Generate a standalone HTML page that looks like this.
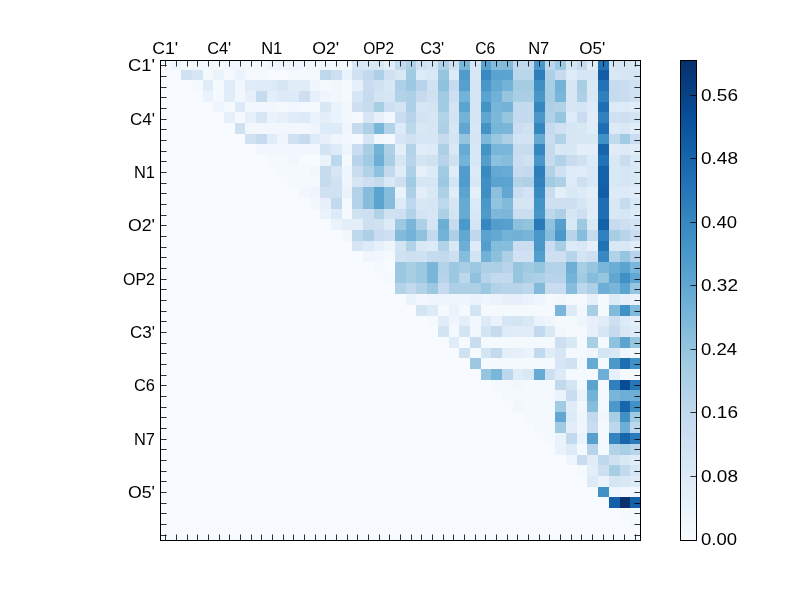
<!DOCTYPE html><html><head><meta charset="utf-8"><style>html,body{margin:0;padding:0;background:#fff;width:800px;height:600px;overflow:hidden}svg{display:block;will-change:transform}text{font-family:"Liberation Sans",sans-serif;fill:#000}</style></head><body>
<svg width="800" height="600" viewBox="0 0 800 600">
<g shape-rendering="crispEdges">
<rect x="0" y="0" width="800" height="600" fill="#fff"/>
<rect x="160" y="60" width="480" height="480" fill="#f7fbff"/>
<rect x="171" y="60" width="10" height="10" fill="#eef5fc"/>
<rect x="181" y="60" width="11" height="10" fill="#f4f9fe"/>
<rect x="192" y="60" width="11" height="10" fill="#f1f7fd"/>
<rect x="203" y="60" width="10" height="10" fill="#f1f7fd"/>
<rect x="213" y="60" width="11" height="10" fill="#f4f9fe"/>
<rect x="224" y="60" width="11" height="10" fill="#f1f7fd"/>
<rect x="235" y="60" width="10" height="10" fill="#f1f7fd"/>
<rect x="245" y="60" width="11" height="10" fill="#f4f9fe"/>
<rect x="256" y="60" width="11" height="10" fill="#f4f9fe"/>
<rect x="267" y="60" width="10" height="10" fill="#eef5fc"/>
<rect x="277" y="60" width="11" height="10" fill="#eef5fc"/>
<rect x="288" y="60" width="11" height="10" fill="#eef5fc"/>
<rect x="299" y="60" width="11" height="10" fill="#f1f7fd"/>
<rect x="310" y="60" width="10" height="10" fill="#f4f9fe"/>
<rect x="320" y="60" width="11" height="10" fill="#f1f7fd"/>
<rect x="331" y="60" width="11" height="10" fill="#f4f9fe"/>
<rect x="342" y="60" width="10" height="10" fill="#f4f9fe"/>
<rect x="352" y="60" width="11" height="10" fill="#d6e6f4"/>
<rect x="363" y="60" width="11" height="10" fill="#d9e8f5"/>
<rect x="374" y="60" width="10" height="10" fill="#d6e6f4"/>
<rect x="384" y="60" width="11" height="10" fill="#e3eef9"/>
<rect x="395" y="60" width="11" height="10" fill="#c2d9ee"/>
<rect x="406" y="60" width="10" height="10" fill="#add0e6"/>
<rect x="416" y="60" width="11" height="10" fill="#d0e2f2"/>
<rect x="427" y="60" width="11" height="10" fill="#d6e6f4"/>
<rect x="438" y="60" width="11" height="10" fill="#add0e6"/>
<rect x="449" y="60" width="10" height="10" fill="#d0e2f2"/>
<rect x="459" y="60" width="11" height="10" fill="#7ab6d9"/>
<rect x="470" y="60" width="11" height="10" fill="#d8e7f5"/>
<rect x="481" y="60" width="10" height="10" fill="#5aa2cf"/>
<rect x="491" y="60" width="11" height="10" fill="#84bcdb"/>
<rect x="502" y="60" width="11" height="10" fill="#81badb"/>
<rect x="513" y="60" width="10" height="10" fill="#bfd8ed"/>
<rect x="523" y="60" width="11" height="10" fill="#bfd8ed"/>
<rect x="534" y="60" width="11" height="10" fill="#4997c9"/>
<rect x="545" y="60" width="10" height="10" fill="#bdd7ec"/>
<rect x="555" y="60" width="11" height="10" fill="#9cc9e1"/>
<rect x="566" y="60" width="11" height="10" fill="#d3e4f3"/>
<rect x="577" y="60" width="10" height="10" fill="#c7dbef"/>
<rect x="587" y="60" width="11" height="10" fill="#e0ecf8"/>
<rect x="598" y="60" width="11" height="10" fill="#2272b6"/>
<rect x="609" y="60" width="11" height="10" fill="#d6e6f4"/>
<rect x="620" y="60" width="10" height="10" fill="#d6e6f4"/>
<rect x="630" y="60" width="10" height="10" fill="#d9e8f5"/>
<rect x="181" y="70" width="11" height="10" fill="#d0e2f2"/>
<rect x="192" y="70" width="11" height="10" fill="#d6e6f4"/>
<rect x="203" y="70" width="10" height="10" fill="#f4f9fe"/>
<rect x="213" y="70" width="11" height="10" fill="#eaf3fb"/>
<rect x="224" y="70" width="11" height="10" fill="#f4f9fe"/>
<rect x="235" y="70" width="10" height="10" fill="#eaf3fb"/>
<rect x="245" y="70" width="11" height="10" fill="#f4f9fe"/>
<rect x="256" y="70" width="11" height="10" fill="#f4f9fe"/>
<rect x="288" y="70" width="11" height="10" fill="#f4f9fe"/>
<rect x="299" y="70" width="11" height="10" fill="#f4f9fe"/>
<rect x="310" y="70" width="10" height="10" fill="#f4f9fe"/>
<rect x="320" y="70" width="11" height="10" fill="#bdd7ec"/>
<rect x="331" y="70" width="11" height="10" fill="#cddff1"/>
<rect x="342" y="70" width="10" height="10" fill="#eaf3fb"/>
<rect x="352" y="70" width="11" height="10" fill="#d0e2f2"/>
<rect x="363" y="70" width="11" height="10" fill="#c2d9ee"/>
<rect x="374" y="70" width="10" height="10" fill="#add0e6"/>
<rect x="384" y="70" width="11" height="10" fill="#d0e2f2"/>
<rect x="395" y="70" width="11" height="10" fill="#d9e8f5"/>
<rect x="406" y="70" width="10" height="10" fill="#a1cbe2"/>
<rect x="416" y="70" width="11" height="10" fill="#ddeaf7"/>
<rect x="427" y="70" width="11" height="10" fill="#d9e8f5"/>
<rect x="438" y="70" width="11" height="10" fill="#95c5df"/>
<rect x="449" y="70" width="10" height="10" fill="#ddeaf7"/>
<rect x="459" y="70" width="11" height="10" fill="#519ccc"/>
<rect x="470" y="70" width="11" height="10" fill="#d8e7f5"/>
<rect x="481" y="70" width="10" height="10" fill="#3a8ac2"/>
<rect x="491" y="70" width="11" height="10" fill="#5aa2cf"/>
<rect x="502" y="70" width="11" height="10" fill="#5ca4d0"/>
<rect x="513" y="70" width="10" height="10" fill="#b9d6ea"/>
<rect x="523" y="70" width="11" height="10" fill="#b9d6ea"/>
<rect x="534" y="70" width="11" height="10" fill="#2e7ebc"/>
<rect x="545" y="70" width="10" height="10" fill="#add0e6"/>
<rect x="555" y="70" width="11" height="10" fill="#c7dbef"/>
<rect x="566" y="70" width="11" height="10" fill="#ddeaf7"/>
<rect x="577" y="70" width="10" height="10" fill="#d6e6f4"/>
<rect x="587" y="70" width="11" height="10" fill="#d6e6f4"/>
<rect x="598" y="70" width="11" height="10" fill="#125da6"/>
<rect x="609" y="70" width="11" height="10" fill="#d9e8f5"/>
<rect x="620" y="70" width="10" height="10" fill="#d6e6f4"/>
<rect x="630" y="70" width="10" height="10" fill="#d6e6f4"/>
<rect x="192" y="80" width="11" height="11" fill="#f4f9fe"/>
<rect x="203" y="80" width="10" height="11" fill="#e0ecf8"/>
<rect x="213" y="80" width="11" height="11" fill="#f4f9fe"/>
<rect x="224" y="80" width="11" height="11" fill="#e0ecf8"/>
<rect x="235" y="80" width="10" height="11" fill="#f1f7fd"/>
<rect x="245" y="80" width="11" height="11" fill="#e0ecf8"/>
<rect x="256" y="80" width="11" height="11" fill="#ddeaf7"/>
<rect x="267" y="80" width="10" height="11" fill="#ddeaf7"/>
<rect x="277" y="80" width="11" height="11" fill="#d6e6f4"/>
<rect x="288" y="80" width="11" height="11" fill="#e0ecf8"/>
<rect x="299" y="80" width="11" height="11" fill="#e0ecf8"/>
<rect x="310" y="80" width="10" height="11" fill="#eef5fc"/>
<rect x="320" y="80" width="11" height="11" fill="#f4f9fe"/>
<rect x="331" y="80" width="11" height="11" fill="#f1f7fd"/>
<rect x="342" y="80" width="10" height="11" fill="#f4f9fe"/>
<rect x="352" y="80" width="11" height="11" fill="#e7f0fa"/>
<rect x="363" y="80" width="11" height="11" fill="#caddf0"/>
<rect x="374" y="80" width="10" height="11" fill="#d0e2f2"/>
<rect x="384" y="80" width="11" height="11" fill="#d9e8f5"/>
<rect x="395" y="80" width="11" height="11" fill="#add0e6"/>
<rect x="406" y="80" width="10" height="11" fill="#9cc9e1"/>
<rect x="416" y="80" width="11" height="11" fill="#b7d4ea"/>
<rect x="427" y="80" width="11" height="11" fill="#d0e2f2"/>
<rect x="438" y="80" width="11" height="11" fill="#8fc2de"/>
<rect x="449" y="80" width="10" height="11" fill="#c7dbef"/>
<rect x="459" y="80" width="11" height="11" fill="#57a0ce"/>
<rect x="470" y="80" width="11" height="11" fill="#d5e5f4"/>
<rect x="481" y="80" width="10" height="11" fill="#4997c9"/>
<rect x="491" y="80" width="11" height="11" fill="#64a9d3"/>
<rect x="502" y="80" width="11" height="11" fill="#74b3d8"/>
<rect x="513" y="80" width="10" height="11" fill="#a4cce3"/>
<rect x="523" y="80" width="11" height="11" fill="#a4cce3"/>
<rect x="534" y="80" width="11" height="11" fill="#3f8fc5"/>
<rect x="545" y="80" width="10" height="11" fill="#a8cee4"/>
<rect x="555" y="80" width="11" height="11" fill="#74b3d8"/>
<rect x="566" y="80" width="11" height="11" fill="#d6e6f4"/>
<rect x="577" y="80" width="10" height="11" fill="#a8cee4"/>
<rect x="587" y="80" width="11" height="11" fill="#d9e8f5"/>
<rect x="598" y="80" width="11" height="11" fill="#2272b6"/>
<rect x="609" y="80" width="11" height="11" fill="#c7dbef"/>
<rect x="620" y="80" width="10" height="11" fill="#caddf0"/>
<rect x="630" y="80" width="10" height="11" fill="#d0e2f2"/>
<rect x="203" y="91" width="10" height="11" fill="#eaf3fb"/>
<rect x="213" y="91" width="11" height="11" fill="#f4f9fe"/>
<rect x="224" y="91" width="11" height="11" fill="#e0ecf8"/>
<rect x="235" y="91" width="10" height="11" fill="#f1f7fd"/>
<rect x="245" y="91" width="11" height="11" fill="#e7f0fa"/>
<rect x="256" y="91" width="11" height="11" fill="#c7dbef"/>
<rect x="267" y="91" width="10" height="11" fill="#e3eef9"/>
<rect x="277" y="91" width="11" height="11" fill="#ddeaf7"/>
<rect x="288" y="91" width="11" height="11" fill="#ddeaf7"/>
<rect x="299" y="91" width="11" height="11" fill="#cddff1"/>
<rect x="310" y="91" width="10" height="11" fill="#e7f0fa"/>
<rect x="320" y="91" width="11" height="11" fill="#eef5fc"/>
<rect x="331" y="91" width="11" height="11" fill="#f1f7fd"/>
<rect x="342" y="91" width="10" height="11" fill="#f4f9fe"/>
<rect x="352" y="91" width="11" height="11" fill="#d6e6f4"/>
<rect x="363" y="91" width="11" height="11" fill="#c7dbef"/>
<rect x="374" y="91" width="10" height="11" fill="#d3e4f3"/>
<rect x="384" y="91" width="11" height="11" fill="#d6e6f4"/>
<rect x="395" y="91" width="11" height="11" fill="#b2d2e8"/>
<rect x="406" y="91" width="10" height="11" fill="#add0e6"/>
<rect x="416" y="91" width="11" height="11" fill="#c7dbef"/>
<rect x="427" y="91" width="11" height="11" fill="#d0e2f2"/>
<rect x="438" y="91" width="11" height="11" fill="#a1cbe2"/>
<rect x="449" y="91" width="10" height="11" fill="#cddff1"/>
<rect x="459" y="91" width="11" height="11" fill="#74b3d8"/>
<rect x="470" y="91" width="11" height="11" fill="#d5e5f4"/>
<rect x="481" y="91" width="10" height="11" fill="#5aa2cf"/>
<rect x="491" y="91" width="11" height="11" fill="#71b1d7"/>
<rect x="502" y="91" width="11" height="11" fill="#95c5df"/>
<rect x="513" y="91" width="10" height="11" fill="#aacfe5"/>
<rect x="523" y="91" width="11" height="11" fill="#aacfe5"/>
<rect x="534" y="91" width="11" height="11" fill="#4997c9"/>
<rect x="545" y="91" width="10" height="11" fill="#a8cee4"/>
<rect x="555" y="91" width="11" height="11" fill="#7ab6d9"/>
<rect x="566" y="91" width="11" height="11" fill="#d6e6f4"/>
<rect x="577" y="91" width="10" height="11" fill="#add0e6"/>
<rect x="587" y="91" width="11" height="11" fill="#d9e8f5"/>
<rect x="598" y="91" width="11" height="11" fill="#3080bd"/>
<rect x="609" y="91" width="11" height="11" fill="#c7dbef"/>
<rect x="620" y="91" width="10" height="11" fill="#caddf0"/>
<rect x="630" y="91" width="10" height="11" fill="#d0e2f2"/>
<rect x="213" y="102" width="11" height="10" fill="#eef5fc"/>
<rect x="224" y="102" width="11" height="10" fill="#f4f9fe"/>
<rect x="235" y="102" width="10" height="10" fill="#ddeaf7"/>
<rect x="245" y="102" width="11" height="10" fill="#f1f7fd"/>
<rect x="256" y="102" width="11" height="10" fill="#f1f7fd"/>
<rect x="267" y="102" width="10" height="10" fill="#f1f7fd"/>
<rect x="277" y="102" width="11" height="10" fill="#f4f9fe"/>
<rect x="288" y="102" width="11" height="10" fill="#f1f7fd"/>
<rect x="299" y="102" width="11" height="10" fill="#f4f9fe"/>
<rect x="310" y="102" width="10" height="10" fill="#f4f9fe"/>
<rect x="320" y="102" width="11" height="10" fill="#d9e8f5"/>
<rect x="331" y="102" width="11" height="10" fill="#eaf3fb"/>
<rect x="342" y="102" width="10" height="10" fill="#f1f7fd"/>
<rect x="352" y="102" width="11" height="10" fill="#cddff1"/>
<rect x="363" y="102" width="11" height="10" fill="#c7dbef"/>
<rect x="374" y="102" width="10" height="10" fill="#a8cee4"/>
<rect x="384" y="102" width="11" height="10" fill="#cddff1"/>
<rect x="395" y="102" width="11" height="10" fill="#d3e4f3"/>
<rect x="406" y="102" width="10" height="10" fill="#add0e6"/>
<rect x="416" y="102" width="11" height="10" fill="#d6e6f4"/>
<rect x="427" y="102" width="11" height="10" fill="#d3e4f3"/>
<rect x="438" y="102" width="11" height="10" fill="#a1cbe2"/>
<rect x="449" y="102" width="10" height="10" fill="#d3e4f3"/>
<rect x="459" y="102" width="11" height="10" fill="#5ca4d0"/>
<rect x="470" y="102" width="11" height="10" fill="#d5e5f4"/>
<rect x="481" y="102" width="10" height="10" fill="#4493c7"/>
<rect x="491" y="102" width="11" height="10" fill="#77b5d9"/>
<rect x="502" y="102" width="11" height="10" fill="#74b3d8"/>
<rect x="513" y="102" width="10" height="10" fill="#c4daee"/>
<rect x="523" y="102" width="11" height="10" fill="#c4daee"/>
<rect x="534" y="102" width="11" height="10" fill="#3686c0"/>
<rect x="545" y="102" width="10" height="10" fill="#add0e6"/>
<rect x="555" y="102" width="11" height="10" fill="#b2d2e8"/>
<rect x="566" y="102" width="11" height="10" fill="#d6e6f4"/>
<rect x="577" y="102" width="10" height="10" fill="#d3e4f3"/>
<rect x="587" y="102" width="11" height="10" fill="#ddeaf7"/>
<rect x="598" y="102" width="11" height="10" fill="#1f6eb3"/>
<rect x="609" y="102" width="11" height="10" fill="#ddeaf7"/>
<rect x="620" y="102" width="10" height="10" fill="#ddeaf7"/>
<rect x="630" y="102" width="10" height="10" fill="#e0ecf8"/>
<rect x="224" y="112" width="11" height="11" fill="#e7f0fa"/>
<rect x="235" y="112" width="10" height="11" fill="#f4f9fe"/>
<rect x="245" y="112" width="11" height="11" fill="#e7f0fa"/>
<rect x="256" y="112" width="11" height="11" fill="#d6e6f4"/>
<rect x="267" y="112" width="10" height="11" fill="#eaf3fb"/>
<rect x="277" y="112" width="11" height="11" fill="#e7f0fa"/>
<rect x="288" y="112" width="11" height="11" fill="#e0ecf8"/>
<rect x="299" y="112" width="11" height="11" fill="#ddeaf7"/>
<rect x="310" y="112" width="10" height="11" fill="#eaf3fb"/>
<rect x="320" y="112" width="11" height="11" fill="#e3eef9"/>
<rect x="331" y="112" width="11" height="11" fill="#eaf3fb"/>
<rect x="342" y="112" width="10" height="11" fill="#f1f7fd"/>
<rect x="352" y="112" width="11" height="11" fill="#f4f9fe"/>
<rect x="363" y="112" width="11" height="11" fill="#d6e6f4"/>
<rect x="374" y="112" width="10" height="11" fill="#e7f0fa"/>
<rect x="384" y="112" width="11" height="11" fill="#f1f7fd"/>
<rect x="395" y="112" width="11" height="11" fill="#caddf0"/>
<rect x="406" y="112" width="10" height="11" fill="#b7d4ea"/>
<rect x="416" y="112" width="11" height="11" fill="#d3e4f3"/>
<rect x="427" y="112" width="11" height="11" fill="#d6e6f4"/>
<rect x="438" y="112" width="11" height="11" fill="#b2d2e8"/>
<rect x="449" y="112" width="10" height="11" fill="#d3e4f3"/>
<rect x="459" y="112" width="11" height="11" fill="#74b3d8"/>
<rect x="470" y="112" width="11" height="11" fill="#d5e5f4"/>
<rect x="481" y="112" width="10" height="11" fill="#5fa6d1"/>
<rect x="491" y="112" width="11" height="11" fill="#7db8da"/>
<rect x="502" y="112" width="11" height="11" fill="#95c5df"/>
<rect x="513" y="112" width="10" height="11" fill="#c4daee"/>
<rect x="523" y="112" width="11" height="11" fill="#c4daee"/>
<rect x="534" y="112" width="11" height="11" fill="#4997c9"/>
<rect x="545" y="112" width="10" height="11" fill="#b2d2e8"/>
<rect x="555" y="112" width="11" height="11" fill="#95c5df"/>
<rect x="566" y="112" width="11" height="11" fill="#ddeaf7"/>
<rect x="577" y="112" width="10" height="11" fill="#caddf0"/>
<rect x="587" y="112" width="11" height="11" fill="#e0ecf8"/>
<rect x="598" y="112" width="11" height="11" fill="#3080bd"/>
<rect x="609" y="112" width="11" height="11" fill="#d0e2f2"/>
<rect x="620" y="112" width="10" height="11" fill="#cddff1"/>
<rect x="630" y="112" width="10" height="11" fill="#d3e4f3"/>
<rect x="235" y="123" width="10" height="11" fill="#d0e2f2"/>
<rect x="245" y="123" width="11" height="11" fill="#f1f7fd"/>
<rect x="256" y="123" width="11" height="11" fill="#f1f7fd"/>
<rect x="267" y="123" width="10" height="11" fill="#f1f7fd"/>
<rect x="277" y="123" width="11" height="11" fill="#f1f7fd"/>
<rect x="288" y="123" width="11" height="11" fill="#f1f7fd"/>
<rect x="299" y="123" width="11" height="11" fill="#f1f7fd"/>
<rect x="310" y="123" width="10" height="11" fill="#eef5fc"/>
<rect x="320" y="123" width="11" height="11" fill="#ddeaf7"/>
<rect x="331" y="123" width="11" height="11" fill="#ddeaf7"/>
<rect x="342" y="123" width="10" height="11" fill="#eef5fc"/>
<rect x="352" y="123" width="11" height="11" fill="#c7dbef"/>
<rect x="363" y="123" width="11" height="11" fill="#add0e6"/>
<rect x="374" y="123" width="10" height="11" fill="#7ab6d9"/>
<rect x="384" y="123" width="11" height="11" fill="#b2d2e8"/>
<rect x="395" y="123" width="11" height="11" fill="#ddeaf7"/>
<rect x="406" y="123" width="10" height="11" fill="#bdd7ec"/>
<rect x="416" y="123" width="11" height="11" fill="#d9e8f5"/>
<rect x="427" y="123" width="11" height="11" fill="#d6e6f4"/>
<rect x="438" y="123" width="11" height="11" fill="#add0e6"/>
<rect x="449" y="123" width="10" height="11" fill="#d6e6f4"/>
<rect x="459" y="123" width="11" height="11" fill="#61a7d2"/>
<rect x="470" y="123" width="11" height="11" fill="#d8e7f5"/>
<rect x="481" y="123" width="10" height="11" fill="#4493c7"/>
<rect x="491" y="123" width="11" height="11" fill="#77b5d9"/>
<rect x="502" y="123" width="11" height="11" fill="#7ab6d9"/>
<rect x="513" y="123" width="10" height="11" fill="#cbdef1"/>
<rect x="523" y="123" width="11" height="11" fill="#cfe1f2"/>
<rect x="534" y="123" width="11" height="11" fill="#3686c0"/>
<rect x="545" y="123" width="10" height="11" fill="#c7dbef"/>
<rect x="555" y="123" width="11" height="11" fill="#d0e2f2"/>
<rect x="566" y="123" width="11" height="11" fill="#d6e6f4"/>
<rect x="577" y="123" width="10" height="11" fill="#d9e8f5"/>
<rect x="587" y="123" width="11" height="11" fill="#e0ecf8"/>
<rect x="598" y="123" width="11" height="11" fill="#1f6eb3"/>
<rect x="609" y="123" width="11" height="11" fill="#ddeaf7"/>
<rect x="620" y="123" width="10" height="11" fill="#d9e8f5"/>
<rect x="630" y="123" width="10" height="11" fill="#e0ecf8"/>
<rect x="245" y="134" width="11" height="10" fill="#d0e2f2"/>
<rect x="256" y="134" width="11" height="10" fill="#c7dbef"/>
<rect x="267" y="134" width="10" height="10" fill="#e0ecf8"/>
<rect x="277" y="134" width="11" height="10" fill="#eef5fc"/>
<rect x="288" y="134" width="11" height="10" fill="#d0e2f2"/>
<rect x="299" y="134" width="11" height="10" fill="#c7dbef"/>
<rect x="310" y="134" width="10" height="10" fill="#ddeaf7"/>
<rect x="320" y="134" width="11" height="10" fill="#e7f0fa"/>
<rect x="331" y="134" width="11" height="10" fill="#eef5fc"/>
<rect x="342" y="134" width="10" height="10" fill="#f1f7fd"/>
<rect x="352" y="134" width="11" height="10" fill="#f4f9fe"/>
<rect x="363" y="134" width="11" height="10" fill="#d6e6f4"/>
<rect x="374" y="134" width="10" height="10" fill="#f1f7fd"/>
<rect x="384" y="134" width="11" height="10" fill="#f4f9fe"/>
<rect x="395" y="134" width="11" height="10" fill="#d6e6f4"/>
<rect x="406" y="134" width="10" height="10" fill="#d0e2f2"/>
<rect x="416" y="134" width="11" height="10" fill="#d6e6f4"/>
<rect x="427" y="134" width="11" height="10" fill="#d6e6f4"/>
<rect x="438" y="134" width="11" height="10" fill="#c7dbef"/>
<rect x="449" y="134" width="10" height="10" fill="#d3e4f3"/>
<rect x="459" y="134" width="11" height="10" fill="#95c5df"/>
<rect x="470" y="134" width="11" height="10" fill="#d5e5f4"/>
<rect x="481" y="134" width="10" height="10" fill="#7db8da"/>
<rect x="491" y="134" width="11" height="10" fill="#99c7e0"/>
<rect x="502" y="134" width="11" height="10" fill="#add0e6"/>
<rect x="513" y="134" width="10" height="10" fill="#d2e3f3"/>
<rect x="523" y="134" width="11" height="10" fill="#d2e3f3"/>
<rect x="534" y="134" width="11" height="10" fill="#64a9d3"/>
<rect x="545" y="134" width="10" height="10" fill="#caddf0"/>
<rect x="555" y="134" width="11" height="10" fill="#b2d2e8"/>
<rect x="566" y="134" width="11" height="10" fill="#d6e6f4"/>
<rect x="577" y="134" width="10" height="10" fill="#d9e8f5"/>
<rect x="587" y="134" width="11" height="10" fill="#d9e8f5"/>
<rect x="598" y="134" width="11" height="10" fill="#4191c6"/>
<rect x="609" y="134" width="11" height="10" fill="#c2d9ee"/>
<rect x="620" y="134" width="10" height="10" fill="#a1cbe2"/>
<rect x="630" y="134" width="10" height="10" fill="#caddf0"/>
<rect x="256" y="144" width="11" height="11" fill="#f1f7fd"/>
<rect x="267" y="144" width="10" height="11" fill="#f1f7fd"/>
<rect x="277" y="144" width="11" height="11" fill="#f1f7fd"/>
<rect x="288" y="144" width="11" height="11" fill="#f1f7fd"/>
<rect x="299" y="144" width="11" height="11" fill="#f1f7fd"/>
<rect x="310" y="144" width="10" height="11" fill="#f1f7fd"/>
<rect x="320" y="144" width="11" height="11" fill="#d3e4f3"/>
<rect x="331" y="144" width="11" height="11" fill="#ddeaf7"/>
<rect x="342" y="144" width="10" height="11" fill="#eef5fc"/>
<rect x="352" y="144" width="11" height="11" fill="#caddf0"/>
<rect x="363" y="144" width="11" height="11" fill="#a8cee4"/>
<rect x="374" y="144" width="10" height="11" fill="#74b3d8"/>
<rect x="384" y="144" width="11" height="11" fill="#add0e6"/>
<rect x="395" y="144" width="11" height="11" fill="#e3eef9"/>
<rect x="406" y="144" width="10" height="11" fill="#b2d2e8"/>
<rect x="416" y="144" width="11" height="11" fill="#e0ecf8"/>
<rect x="427" y="144" width="11" height="11" fill="#ddeaf7"/>
<rect x="438" y="144" width="11" height="11" fill="#add0e6"/>
<rect x="449" y="144" width="10" height="11" fill="#d9e8f5"/>
<rect x="459" y="144" width="11" height="11" fill="#66abd4"/>
<rect x="470" y="144" width="11" height="11" fill="#d8e7f5"/>
<rect x="481" y="144" width="10" height="11" fill="#4493c7"/>
<rect x="491" y="144" width="11" height="11" fill="#77b5d9"/>
<rect x="502" y="144" width="11" height="11" fill="#7ab6d9"/>
<rect x="513" y="144" width="10" height="11" fill="#c8dcf0"/>
<rect x="523" y="144" width="11" height="11" fill="#c8dcf0"/>
<rect x="534" y="144" width="11" height="11" fill="#3686c0"/>
<rect x="545" y="144" width="10" height="11" fill="#c7dbef"/>
<rect x="555" y="144" width="11" height="11" fill="#d9e8f5"/>
<rect x="566" y="144" width="11" height="11" fill="#d9e8f5"/>
<rect x="577" y="144" width="10" height="11" fill="#e3eef9"/>
<rect x="587" y="144" width="11" height="11" fill="#e3eef9"/>
<rect x="598" y="144" width="11" height="11" fill="#1865ac"/>
<rect x="609" y="144" width="11" height="11" fill="#e0ecf8"/>
<rect x="620" y="144" width="10" height="11" fill="#ddeaf7"/>
<rect x="630" y="144" width="10" height="11" fill="#e0ecf8"/>
<rect x="267" y="155" width="10" height="11" fill="#f4f9fe"/>
<rect x="277" y="155" width="11" height="11" fill="#f4f9fe"/>
<rect x="288" y="155" width="11" height="11" fill="#f1f7fd"/>
<rect x="320" y="155" width="11" height="11" fill="#eaf3fb"/>
<rect x="331" y="155" width="11" height="11" fill="#bdd7ec"/>
<rect x="342" y="155" width="10" height="11" fill="#f4f9fe"/>
<rect x="352" y="155" width="11" height="11" fill="#b7d4ea"/>
<rect x="363" y="155" width="11" height="11" fill="#a1cbe2"/>
<rect x="374" y="155" width="10" height="11" fill="#6caed6"/>
<rect x="384" y="155" width="11" height="11" fill="#a8cee4"/>
<rect x="395" y="155" width="11" height="11" fill="#d6e6f4"/>
<rect x="406" y="155" width="10" height="11" fill="#b7d4ea"/>
<rect x="416" y="155" width="11" height="11" fill="#d3e4f3"/>
<rect x="427" y="155" width="11" height="11" fill="#d0e2f2"/>
<rect x="438" y="155" width="11" height="11" fill="#b7d4ea"/>
<rect x="449" y="155" width="10" height="11" fill="#d0e2f2"/>
<rect x="459" y="155" width="11" height="11" fill="#74b3d8"/>
<rect x="470" y="155" width="11" height="11" fill="#d8e7f5"/>
<rect x="481" y="155" width="10" height="11" fill="#539ecd"/>
<rect x="491" y="155" width="11" height="11" fill="#8cc0dd"/>
<rect x="502" y="155" width="11" height="11" fill="#87bddc"/>
<rect x="513" y="155" width="10" height="11" fill="#cbdef1"/>
<rect x="523" y="155" width="11" height="11" fill="#cfe1f2"/>
<rect x="534" y="155" width="11" height="11" fill="#4997c9"/>
<rect x="545" y="155" width="10" height="11" fill="#c7dbef"/>
<rect x="555" y="155" width="11" height="11" fill="#b2d2e8"/>
<rect x="566" y="155" width="11" height="11" fill="#caddf0"/>
<rect x="577" y="155" width="10" height="11" fill="#d0e2f2"/>
<rect x="587" y="155" width="11" height="11" fill="#ddeaf7"/>
<rect x="598" y="155" width="11" height="11" fill="#2272b6"/>
<rect x="609" y="155" width="11" height="11" fill="#d9e8f5"/>
<rect x="620" y="155" width="10" height="11" fill="#caddf0"/>
<rect x="630" y="155" width="10" height="11" fill="#d9e8f5"/>
<rect x="277" y="166" width="11" height="11" fill="#f4f9fe"/>
<rect x="288" y="166" width="11" height="11" fill="#f4f9fe"/>
<rect x="299" y="166" width="11" height="11" fill="#f4f9fe"/>
<rect x="310" y="166" width="10" height="11" fill="#f1f7fd"/>
<rect x="320" y="166" width="11" height="11" fill="#c7dbef"/>
<rect x="331" y="166" width="11" height="11" fill="#d6e6f4"/>
<rect x="342" y="166" width="10" height="11" fill="#eef5fc"/>
<rect x="352" y="166" width="11" height="11" fill="#caddf0"/>
<rect x="363" y="166" width="11" height="11" fill="#b2d2e8"/>
<rect x="374" y="166" width="10" height="11" fill="#8fc2de"/>
<rect x="384" y="166" width="11" height="11" fill="#c2d9ee"/>
<rect x="395" y="166" width="11" height="11" fill="#e0ecf8"/>
<rect x="406" y="166" width="10" height="11" fill="#add0e6"/>
<rect x="416" y="166" width="11" height="11" fill="#e7f0fa"/>
<rect x="427" y="166" width="11" height="11" fill="#ddeaf7"/>
<rect x="438" y="166" width="11" height="11" fill="#a1cbe2"/>
<rect x="449" y="166" width="10" height="11" fill="#e0ecf8"/>
<rect x="459" y="166" width="11" height="11" fill="#519ccc"/>
<rect x="470" y="166" width="11" height="11" fill="#dce9f6"/>
<rect x="481" y="166" width="10" height="11" fill="#3a8ac2"/>
<rect x="491" y="166" width="11" height="11" fill="#64a9d3"/>
<rect x="502" y="166" width="11" height="11" fill="#66abd4"/>
<rect x="513" y="166" width="10" height="11" fill="#c8dcf0"/>
<rect x="523" y="166" width="11" height="11" fill="#c4daee"/>
<rect x="534" y="166" width="11" height="11" fill="#2e7ebc"/>
<rect x="545" y="166" width="10" height="11" fill="#b2d2e8"/>
<rect x="555" y="166" width="11" height="11" fill="#d0e2f2"/>
<rect x="566" y="166" width="11" height="11" fill="#ddeaf7"/>
<rect x="577" y="166" width="10" height="11" fill="#e0ecf8"/>
<rect x="587" y="166" width="11" height="11" fill="#d9e8f5"/>
<rect x="598" y="166" width="11" height="11" fill="#1561a9"/>
<rect x="609" y="166" width="11" height="11" fill="#d9e8f5"/>
<rect x="620" y="166" width="10" height="11" fill="#d6e6f4"/>
<rect x="630" y="166" width="10" height="11" fill="#d9e8f5"/>
<rect x="288" y="177" width="11" height="10" fill="#f4f9fe"/>
<rect x="299" y="177" width="11" height="10" fill="#f4f9fe"/>
<rect x="310" y="177" width="10" height="10" fill="#f4f9fe"/>
<rect x="320" y="177" width="11" height="10" fill="#c7dbef"/>
<rect x="331" y="177" width="11" height="10" fill="#d0e2f2"/>
<rect x="342" y="177" width="10" height="10" fill="#eef5fc"/>
<rect x="352" y="177" width="11" height="10" fill="#d6e6f4"/>
<rect x="363" y="177" width="11" height="10" fill="#cddff1"/>
<rect x="374" y="177" width="10" height="10" fill="#c7dbef"/>
<rect x="384" y="177" width="11" height="10" fill="#d9e8f5"/>
<rect x="395" y="177" width="11" height="10" fill="#cddff1"/>
<rect x="406" y="177" width="10" height="10" fill="#a1cbe2"/>
<rect x="416" y="177" width="11" height="10" fill="#d6e6f4"/>
<rect x="427" y="177" width="11" height="10" fill="#d6e6f4"/>
<rect x="438" y="177" width="11" height="10" fill="#9cc9e1"/>
<rect x="449" y="177" width="10" height="10" fill="#d3e4f3"/>
<rect x="459" y="177" width="11" height="10" fill="#519ccc"/>
<rect x="470" y="177" width="11" height="10" fill="#d8e7f5"/>
<rect x="481" y="177" width="10" height="10" fill="#3f8fc5"/>
<rect x="491" y="177" width="11" height="10" fill="#5aa2cf"/>
<rect x="502" y="177" width="11" height="10" fill="#5ca4d0"/>
<rect x="513" y="177" width="10" height="10" fill="#b4d3e9"/>
<rect x="523" y="177" width="11" height="10" fill="#afd1e7"/>
<rect x="534" y="177" width="11" height="10" fill="#3282be"/>
<rect x="545" y="177" width="10" height="10" fill="#a1cbe2"/>
<rect x="555" y="177" width="11" height="10" fill="#add0e6"/>
<rect x="566" y="177" width="11" height="10" fill="#ddeaf7"/>
<rect x="577" y="177" width="10" height="10" fill="#cddff1"/>
<rect x="587" y="177" width="11" height="10" fill="#d9e8f5"/>
<rect x="598" y="177" width="11" height="10" fill="#1561a9"/>
<rect x="609" y="177" width="11" height="10" fill="#d9e8f5"/>
<rect x="620" y="177" width="10" height="10" fill="#d6e6f4"/>
<rect x="630" y="177" width="10" height="10" fill="#d9e8f5"/>
<rect x="299" y="187" width="11" height="11" fill="#f1f7fd"/>
<rect x="310" y="187" width="10" height="11" fill="#eef5fc"/>
<rect x="320" y="187" width="11" height="11" fill="#d0e2f2"/>
<rect x="331" y="187" width="11" height="11" fill="#d0e2f2"/>
<rect x="342" y="187" width="10" height="11" fill="#eaf3fb"/>
<rect x="352" y="187" width="11" height="11" fill="#b2d2e8"/>
<rect x="363" y="187" width="11" height="11" fill="#87bddc"/>
<rect x="374" y="187" width="10" height="11" fill="#5ca4d0"/>
<rect x="384" y="187" width="11" height="11" fill="#87bddc"/>
<rect x="395" y="187" width="11" height="11" fill="#eaf3fb"/>
<rect x="406" y="187" width="10" height="11" fill="#add0e6"/>
<rect x="416" y="187" width="11" height="11" fill="#e3eef9"/>
<rect x="427" y="187" width="11" height="11" fill="#d9e8f5"/>
<rect x="438" y="187" width="11" height="11" fill="#add0e6"/>
<rect x="449" y="187" width="10" height="11" fill="#e0ecf8"/>
<rect x="459" y="187" width="11" height="11" fill="#5ca4d0"/>
<rect x="470" y="187" width="11" height="11" fill="#e5eff9"/>
<rect x="481" y="187" width="10" height="11" fill="#3f8fc5"/>
<rect x="491" y="187" width="11" height="11" fill="#8cc0dd"/>
<rect x="502" y="187" width="11" height="11" fill="#61a7d2"/>
<rect x="513" y="187" width="10" height="11" fill="#cbdef1"/>
<rect x="523" y="187" width="11" height="11" fill="#d2e3f3"/>
<rect x="534" y="187" width="11" height="11" fill="#3a8ac2"/>
<rect x="545" y="187" width="10" height="11" fill="#caddf0"/>
<rect x="555" y="187" width="11" height="11" fill="#e3eef9"/>
<rect x="566" y="187" width="11" height="11" fill="#d9e8f5"/>
<rect x="577" y="187" width="10" height="11" fill="#ddeaf7"/>
<rect x="587" y="187" width="11" height="11" fill="#e3eef9"/>
<rect x="598" y="187" width="11" height="11" fill="#125da6"/>
<rect x="609" y="187" width="11" height="11" fill="#ddeaf7"/>
<rect x="620" y="187" width="10" height="11" fill="#ddeaf7"/>
<rect x="630" y="187" width="10" height="11" fill="#e0ecf8"/>
<rect x="310" y="198" width="10" height="11" fill="#f1f7fd"/>
<rect x="320" y="198" width="11" height="11" fill="#e7f0fa"/>
<rect x="331" y="198" width="11" height="11" fill="#c2d9ee"/>
<rect x="342" y="198" width="10" height="11" fill="#f4f9fe"/>
<rect x="352" y="198" width="11" height="11" fill="#b2d2e8"/>
<rect x="363" y="198" width="11" height="11" fill="#87bddc"/>
<rect x="374" y="198" width="10" height="11" fill="#5ca4d0"/>
<rect x="384" y="198" width="11" height="11" fill="#87bddc"/>
<rect x="395" y="198" width="11" height="11" fill="#ddeaf7"/>
<rect x="406" y="198" width="10" height="11" fill="#bdd7ec"/>
<rect x="416" y="198" width="11" height="11" fill="#d9e8f5"/>
<rect x="427" y="198" width="11" height="11" fill="#d6e6f4"/>
<rect x="438" y="198" width="11" height="11" fill="#bdd7ec"/>
<rect x="449" y="198" width="10" height="11" fill="#d6e6f4"/>
<rect x="459" y="198" width="11" height="11" fill="#66abd4"/>
<rect x="470" y="198" width="11" height="11" fill="#dce9f6"/>
<rect x="481" y="198" width="10" height="11" fill="#4997c9"/>
<rect x="491" y="198" width="11" height="11" fill="#92c4de"/>
<rect x="502" y="198" width="11" height="11" fill="#81badb"/>
<rect x="513" y="198" width="10" height="11" fill="#d5e5f4"/>
<rect x="523" y="198" width="11" height="11" fill="#d5e5f4"/>
<rect x="534" y="198" width="11" height="11" fill="#4493c7"/>
<rect x="545" y="198" width="10" height="11" fill="#cddff1"/>
<rect x="555" y="198" width="11" height="11" fill="#cddff1"/>
<rect x="566" y="198" width="11" height="11" fill="#cddff1"/>
<rect x="577" y="198" width="10" height="11" fill="#d6e6f4"/>
<rect x="587" y="198" width="11" height="11" fill="#e0ecf8"/>
<rect x="598" y="198" width="11" height="11" fill="#1f6eb3"/>
<rect x="609" y="198" width="11" height="11" fill="#d9e8f5"/>
<rect x="620" y="198" width="10" height="11" fill="#c7dbef"/>
<rect x="630" y="198" width="10" height="11" fill="#d9e8f5"/>
<rect x="320" y="209" width="11" height="10" fill="#eaf3fb"/>
<rect x="331" y="209" width="11" height="10" fill="#ddeaf7"/>
<rect x="342" y="209" width="10" height="10" fill="#f4f9fe"/>
<rect x="352" y="209" width="11" height="10" fill="#d0e2f2"/>
<rect x="363" y="209" width="11" height="10" fill="#cddff1"/>
<rect x="374" y="209" width="10" height="10" fill="#b2d2e8"/>
<rect x="384" y="209" width="11" height="10" fill="#d0e2f2"/>
<rect x="395" y="209" width="11" height="10" fill="#cddff1"/>
<rect x="406" y="209" width="10" height="10" fill="#b2d2e8"/>
<rect x="416" y="209" width="11" height="10" fill="#d3e4f3"/>
<rect x="427" y="209" width="11" height="10" fill="#d6e6f4"/>
<rect x="438" y="209" width="11" height="10" fill="#add0e6"/>
<rect x="449" y="209" width="10" height="10" fill="#d3e4f3"/>
<rect x="459" y="209" width="11" height="10" fill="#66abd4"/>
<rect x="470" y="209" width="11" height="10" fill="#d8e7f5"/>
<rect x="481" y="209" width="10" height="10" fill="#4e9acb"/>
<rect x="491" y="209" width="11" height="10" fill="#7db8da"/>
<rect x="502" y="209" width="11" height="10" fill="#7ab6d9"/>
<rect x="513" y="209" width="10" height="10" fill="#cbdef1"/>
<rect x="523" y="209" width="11" height="10" fill="#cbdef1"/>
<rect x="534" y="209" width="11" height="10" fill="#4997c9"/>
<rect x="545" y="209" width="10" height="10" fill="#bdd7ec"/>
<rect x="555" y="209" width="11" height="10" fill="#add0e6"/>
<rect x="566" y="209" width="11" height="10" fill="#d6e6f4"/>
<rect x="577" y="209" width="10" height="10" fill="#cddff1"/>
<rect x="587" y="209" width="11" height="10" fill="#e0ecf8"/>
<rect x="598" y="209" width="11" height="10" fill="#1f6eb3"/>
<rect x="609" y="209" width="11" height="10" fill="#d9e8f5"/>
<rect x="620" y="209" width="10" height="10" fill="#d6e6f4"/>
<rect x="630" y="209" width="10" height="10" fill="#ddeaf7"/>
<rect x="331" y="219" width="11" height="11" fill="#eaf3fb"/>
<rect x="342" y="219" width="10" height="11" fill="#e3eef9"/>
<rect x="352" y="219" width="11" height="11" fill="#e3eef9"/>
<rect x="363" y="219" width="11" height="11" fill="#cddff1"/>
<rect x="374" y="219" width="10" height="11" fill="#d0e2f2"/>
<rect x="384" y="219" width="11" height="11" fill="#ddeaf7"/>
<rect x="395" y="219" width="11" height="11" fill="#9cc9e1"/>
<rect x="406" y="219" width="10" height="11" fill="#7ab6d9"/>
<rect x="416" y="219" width="11" height="11" fill="#add0e6"/>
<rect x="427" y="219" width="11" height="11" fill="#d3e4f3"/>
<rect x="438" y="219" width="11" height="11" fill="#6caed6"/>
<rect x="449" y="219" width="10" height="11" fill="#c7dbef"/>
<rect x="459" y="219" width="11" height="11" fill="#4b98ca"/>
<rect x="470" y="219" width="11" height="11" fill="#d5e5f4"/>
<rect x="481" y="219" width="10" height="11" fill="#3686c0"/>
<rect x="491" y="219" width="11" height="11" fill="#539ecd"/>
<rect x="502" y="219" width="11" height="11" fill="#57a0ce"/>
<rect x="513" y="219" width="10" height="11" fill="#8cc0dd"/>
<rect x="523" y="219" width="11" height="11" fill="#92c4de"/>
<rect x="534" y="219" width="11" height="11" fill="#2979b9"/>
<rect x="545" y="219" width="10" height="11" fill="#8fc2de"/>
<rect x="555" y="219" width="11" height="11" fill="#57a0ce"/>
<rect x="566" y="219" width="11" height="11" fill="#d9e8f5"/>
<rect x="577" y="219" width="10" height="11" fill="#9cc9e1"/>
<rect x="587" y="219" width="11" height="11" fill="#d9e8f5"/>
<rect x="598" y="219" width="11" height="11" fill="#1561a9"/>
<rect x="609" y="219" width="11" height="11" fill="#c7dbef"/>
<rect x="620" y="219" width="10" height="11" fill="#cddff1"/>
<rect x="630" y="219" width="10" height="11" fill="#d3e4f3"/>
<rect x="342" y="230" width="10" height="11" fill="#f1f7fd"/>
<rect x="352" y="230" width="11" height="11" fill="#bdd7ec"/>
<rect x="363" y="230" width="11" height="11" fill="#add0e6"/>
<rect x="374" y="230" width="10" height="11" fill="#caddf0"/>
<rect x="384" y="230" width="11" height="11" fill="#cddff1"/>
<rect x="395" y="230" width="11" height="11" fill="#81badb"/>
<rect x="406" y="230" width="10" height="11" fill="#74b3d8"/>
<rect x="416" y="230" width="11" height="11" fill="#8fc2de"/>
<rect x="427" y="230" width="11" height="11" fill="#c2d9ee"/>
<rect x="438" y="230" width="11" height="11" fill="#74b3d8"/>
<rect x="449" y="230" width="10" height="11" fill="#add0e6"/>
<rect x="459" y="230" width="11" height="11" fill="#61a7d2"/>
<rect x="470" y="230" width="11" height="11" fill="#bfd8ed"/>
<rect x="481" y="230" width="10" height="11" fill="#5aa2cf"/>
<rect x="491" y="230" width="11" height="11" fill="#64a9d3"/>
<rect x="502" y="230" width="11" height="11" fill="#74b3d8"/>
<rect x="513" y="230" width="10" height="11" fill="#71b1d7"/>
<rect x="523" y="230" width="11" height="11" fill="#77b5d9"/>
<rect x="534" y="230" width="11" height="11" fill="#4997c9"/>
<rect x="545" y="230" width="10" height="11" fill="#87bddc"/>
<rect x="555" y="230" width="11" height="11" fill="#4b98ca"/>
<rect x="566" y="230" width="11" height="11" fill="#b7d4ea"/>
<rect x="577" y="230" width="10" height="11" fill="#87bddc"/>
<rect x="587" y="230" width="11" height="11" fill="#c7dbef"/>
<rect x="598" y="230" width="11" height="11" fill="#3080bd"/>
<rect x="609" y="230" width="11" height="11" fill="#a8cee4"/>
<rect x="620" y="230" width="10" height="11" fill="#b7d4ea"/>
<rect x="630" y="230" width="10" height="11" fill="#caddf0"/>
<rect x="352" y="241" width="11" height="10" fill="#d6e6f4"/>
<rect x="363" y="241" width="11" height="10" fill="#ddeaf7"/>
<rect x="374" y="241" width="10" height="10" fill="#e7f0fa"/>
<rect x="384" y="241" width="11" height="10" fill="#eef5fc"/>
<rect x="395" y="241" width="11" height="10" fill="#d3e4f3"/>
<rect x="406" y="241" width="10" height="10" fill="#b2d2e8"/>
<rect x="416" y="241" width="11" height="10" fill="#d9e8f5"/>
<rect x="427" y="241" width="11" height="10" fill="#ddeaf7"/>
<rect x="438" y="241" width="11" height="10" fill="#b2d2e8"/>
<rect x="449" y="241" width="10" height="10" fill="#d9e8f5"/>
<rect x="459" y="241" width="11" height="10" fill="#6caed6"/>
<rect x="470" y="241" width="11" height="10" fill="#dfebf7"/>
<rect x="481" y="241" width="10" height="10" fill="#539ecd"/>
<rect x="491" y="241" width="11" height="10" fill="#84bcdb"/>
<rect x="502" y="241" width="11" height="10" fill="#87bddc"/>
<rect x="513" y="241" width="10" height="10" fill="#cbdef1"/>
<rect x="523" y="241" width="11" height="10" fill="#cbdef1"/>
<rect x="534" y="241" width="11" height="10" fill="#4997c9"/>
<rect x="545" y="241" width="10" height="10" fill="#caddf0"/>
<rect x="555" y="241" width="11" height="10" fill="#a8cee4"/>
<rect x="566" y="241" width="11" height="10" fill="#ddeaf7"/>
<rect x="577" y="241" width="10" height="10" fill="#d9e8f5"/>
<rect x="587" y="241" width="11" height="10" fill="#e7f0fa"/>
<rect x="598" y="241" width="11" height="10" fill="#2272b6"/>
<rect x="609" y="241" width="11" height="10" fill="#d9e8f5"/>
<rect x="620" y="241" width="10" height="10" fill="#d9e8f5"/>
<rect x="630" y="241" width="10" height="10" fill="#e0ecf8"/>
<rect x="363" y="251" width="11" height="11" fill="#eef5fc"/>
<rect x="374" y="251" width="10" height="11" fill="#f1f7fd"/>
<rect x="384" y="251" width="11" height="11" fill="#f4f9fe"/>
<rect x="395" y="251" width="11" height="11" fill="#d0e2f2"/>
<rect x="406" y="251" width="10" height="11" fill="#cddff1"/>
<rect x="416" y="251" width="11" height="11" fill="#d0e2f2"/>
<rect x="427" y="251" width="11" height="11" fill="#c7dbef"/>
<rect x="438" y="251" width="11" height="11" fill="#c2d9ee"/>
<rect x="449" y="251" width="10" height="11" fill="#cddff1"/>
<rect x="459" y="251" width="11" height="11" fill="#87bddc"/>
<rect x="470" y="251" width="11" height="11" fill="#d2e3f3"/>
<rect x="481" y="251" width="10" height="11" fill="#71b1d7"/>
<rect x="491" y="251" width="11" height="11" fill="#8cc0dd"/>
<rect x="502" y="251" width="11" height="11" fill="#add0e6"/>
<rect x="513" y="251" width="10" height="11" fill="#cfe1f2"/>
<rect x="523" y="251" width="11" height="11" fill="#cfe1f2"/>
<rect x="534" y="251" width="11" height="11" fill="#539ecd"/>
<rect x="545" y="251" width="10" height="11" fill="#cddff1"/>
<rect x="555" y="251" width="11" height="11" fill="#cddff1"/>
<rect x="566" y="251" width="11" height="11" fill="#b7d4ea"/>
<rect x="577" y="251" width="10" height="11" fill="#d3e4f3"/>
<rect x="587" y="251" width="11" height="11" fill="#cddff1"/>
<rect x="598" y="251" width="11" height="11" fill="#3888c1"/>
<rect x="609" y="251" width="11" height="11" fill="#b2d2e8"/>
<rect x="620" y="251" width="10" height="11" fill="#95c5df"/>
<rect x="630" y="251" width="10" height="11" fill="#b7d4ea"/>
<rect x="374" y="262" width="10" height="11" fill="#f4f9fe"/>
<rect x="395" y="262" width="11" height="11" fill="#9cc9e1"/>
<rect x="406" y="262" width="10" height="11" fill="#a8cee4"/>
<rect x="416" y="262" width="11" height="11" fill="#9cc9e1"/>
<rect x="427" y="262" width="11" height="11" fill="#7ab6d9"/>
<rect x="438" y="262" width="11" height="11" fill="#b2d2e8"/>
<rect x="449" y="262" width="10" height="11" fill="#9cc9e1"/>
<rect x="459" y="262" width="11" height="11" fill="#a8cee4"/>
<rect x="470" y="262" width="11" height="11" fill="#9cc9e1"/>
<rect x="481" y="262" width="10" height="11" fill="#add0e6"/>
<rect x="491" y="262" width="11" height="11" fill="#add0e6"/>
<rect x="502" y="262" width="11" height="11" fill="#b7d4ea"/>
<rect x="513" y="262" width="10" height="11" fill="#95c5df"/>
<rect x="523" y="262" width="11" height="11" fill="#a1cbe2"/>
<rect x="534" y="262" width="11" height="11" fill="#95c5df"/>
<rect x="545" y="262" width="10" height="11" fill="#b2d2e8"/>
<rect x="555" y="262" width="11" height="11" fill="#b2d2e8"/>
<rect x="566" y="262" width="11" height="11" fill="#6caed6"/>
<rect x="577" y="262" width="10" height="11" fill="#a8cee4"/>
<rect x="587" y="262" width="11" height="11" fill="#95c5df"/>
<rect x="598" y="262" width="11" height="11" fill="#7ab6d9"/>
<rect x="609" y="262" width="11" height="11" fill="#6caed6"/>
<rect x="620" y="262" width="10" height="11" fill="#5ca4d0"/>
<rect x="630" y="262" width="10" height="11" fill="#7ab6d9"/>
<rect x="384" y="273" width="11" height="10" fill="#f4f9fe"/>
<rect x="395" y="273" width="11" height="10" fill="#9cc9e1"/>
<rect x="406" y="273" width="10" height="10" fill="#a8cee4"/>
<rect x="416" y="273" width="11" height="10" fill="#9cc9e1"/>
<rect x="427" y="273" width="11" height="10" fill="#7ab6d9"/>
<rect x="438" y="273" width="11" height="10" fill="#b7d4ea"/>
<rect x="449" y="273" width="10" height="10" fill="#9cc9e1"/>
<rect x="459" y="273" width="11" height="10" fill="#bdd7ec"/>
<rect x="470" y="273" width="11" height="10" fill="#8fc2de"/>
<rect x="481" y="273" width="10" height="10" fill="#b7d4ea"/>
<rect x="491" y="273" width="11" height="10" fill="#c2d9ee"/>
<rect x="502" y="273" width="11" height="10" fill="#c2d9ee"/>
<rect x="513" y="273" width="10" height="10" fill="#95c5df"/>
<rect x="523" y="273" width="11" height="10" fill="#a8cee4"/>
<rect x="534" y="273" width="11" height="10" fill="#add0e6"/>
<rect x="545" y="273" width="10" height="10" fill="#b7d4ea"/>
<rect x="555" y="273" width="11" height="10" fill="#b7d4ea"/>
<rect x="566" y="273" width="11" height="10" fill="#74b3d8"/>
<rect x="577" y="273" width="10" height="10" fill="#a1cbe2"/>
<rect x="587" y="273" width="11" height="10" fill="#87bddc"/>
<rect x="598" y="273" width="11" height="10" fill="#95c5df"/>
<rect x="609" y="273" width="11" height="10" fill="#61a7d2"/>
<rect x="620" y="273" width="10" height="10" fill="#4191c6"/>
<rect x="630" y="273" width="10" height="10" fill="#61a7d2"/>
<rect x="395" y="283" width="11" height="11" fill="#b2d2e8"/>
<rect x="406" y="283" width="10" height="11" fill="#c2d9ee"/>
<rect x="416" y="283" width="11" height="11" fill="#b2d2e8"/>
<rect x="427" y="283" width="11" height="11" fill="#9cc9e1"/>
<rect x="438" y="283" width="11" height="11" fill="#c7dbef"/>
<rect x="449" y="283" width="10" height="11" fill="#add0e6"/>
<rect x="459" y="283" width="11" height="11" fill="#add0e6"/>
<rect x="470" y="283" width="11" height="11" fill="#add0e6"/>
<rect x="481" y="283" width="10" height="11" fill="#9cc9e1"/>
<rect x="491" y="283" width="11" height="11" fill="#b2d2e8"/>
<rect x="502" y="283" width="11" height="11" fill="#b7d4ea"/>
<rect x="513" y="283" width="10" height="11" fill="#b7d4ea"/>
<rect x="523" y="283" width="11" height="11" fill="#bdd7ec"/>
<rect x="534" y="283" width="11" height="11" fill="#81badb"/>
<rect x="545" y="283" width="10" height="11" fill="#caddf0"/>
<rect x="555" y="283" width="11" height="11" fill="#caddf0"/>
<rect x="566" y="283" width="11" height="11" fill="#87bddc"/>
<rect x="577" y="283" width="10" height="11" fill="#bdd7ec"/>
<rect x="587" y="283" width="11" height="11" fill="#add0e6"/>
<rect x="598" y="283" width="11" height="11" fill="#6caed6"/>
<rect x="609" y="283" width="11" height="11" fill="#7ab6d9"/>
<rect x="620" y="283" width="10" height="11" fill="#5ca4d0"/>
<rect x="630" y="283" width="10" height="11" fill="#95c5df"/>
<rect x="406" y="294" width="10" height="11" fill="#eaf3fb"/>
<rect x="416" y="294" width="11" height="11" fill="#f1f7fd"/>
<rect x="427" y="294" width="11" height="11" fill="#eef5fc"/>
<rect x="438" y="294" width="11" height="11" fill="#eef5fc"/>
<rect x="449" y="294" width="10" height="11" fill="#eef5fc"/>
<rect x="459" y="294" width="11" height="11" fill="#eef5fc"/>
<rect x="470" y="294" width="11" height="11" fill="#eaf3fb"/>
<rect x="481" y="294" width="10" height="11" fill="#eef5fc"/>
<rect x="491" y="294" width="11" height="11" fill="#eaf3fb"/>
<rect x="502" y="294" width="11" height="11" fill="#e7f0fa"/>
<rect x="513" y="294" width="10" height="11" fill="#e7f0fa"/>
<rect x="523" y="294" width="11" height="11" fill="#eaf3fb"/>
<rect x="534" y="294" width="11" height="11" fill="#eef5fc"/>
<rect x="545" y="294" width="10" height="11" fill="#f4f9fe"/>
<rect x="555" y="294" width="11" height="11" fill="#f1f7fd"/>
<rect x="566" y="294" width="11" height="11" fill="#f4f9fe"/>
<rect x="577" y="294" width="10" height="11" fill="#f4f9fe"/>
<rect x="587" y="294" width="11" height="11" fill="#e7f0fa"/>
<rect x="598" y="294" width="11" height="11" fill="#f4f9fe"/>
<rect x="609" y="294" width="11" height="11" fill="#ddeaf7"/>
<rect x="620" y="294" width="10" height="11" fill="#e7f0fa"/>
<rect x="630" y="294" width="10" height="11" fill="#eaf3fb"/>
<rect x="416" y="305" width="11" height="11" fill="#d3e4f3"/>
<rect x="427" y="305" width="11" height="11" fill="#ddeaf7"/>
<rect x="438" y="305" width="11" height="11" fill="#f4f9fe"/>
<rect x="449" y="305" width="10" height="11" fill="#eaf3fb"/>
<rect x="459" y="305" width="11" height="11" fill="#f4f9fe"/>
<rect x="470" y="305" width="11" height="11" fill="#d3e4f3"/>
<rect x="481" y="305" width="10" height="11" fill="#f4f9fe"/>
<rect x="491" y="305" width="11" height="11" fill="#f4f9fe"/>
<rect x="502" y="305" width="11" height="11" fill="#f4f9fe"/>
<rect x="513" y="305" width="10" height="11" fill="#f4f9fe"/>
<rect x="523" y="305" width="11" height="11" fill="#f4f9fe"/>
<rect x="534" y="305" width="11" height="11" fill="#f4f9fe"/>
<rect x="545" y="305" width="10" height="11" fill="#f4f9fe"/>
<rect x="555" y="305" width="11" height="11" fill="#7ab6d9"/>
<rect x="566" y="305" width="11" height="11" fill="#ddeaf7"/>
<rect x="577" y="305" width="10" height="11" fill="#f1f7fd"/>
<rect x="587" y="305" width="11" height="11" fill="#a8cee4"/>
<rect x="598" y="305" width="11" height="11" fill="#f4f9fe"/>
<rect x="609" y="305" width="11" height="11" fill="#81badb"/>
<rect x="620" y="305" width="10" height="11" fill="#4191c6"/>
<rect x="630" y="305" width="10" height="11" fill="#81badb"/>
<rect x="427" y="316" width="11" height="10" fill="#f4f9fe"/>
<rect x="438" y="316" width="11" height="10" fill="#e0ecf8"/>
<rect x="449" y="316" width="10" height="10" fill="#eef5fc"/>
<rect x="459" y="316" width="11" height="10" fill="#e3eef9"/>
<rect x="470" y="316" width="11" height="10" fill="#f1f7fd"/>
<rect x="481" y="316" width="10" height="10" fill="#ddeaf7"/>
<rect x="491" y="316" width="11" height="10" fill="#eaf3fb"/>
<rect x="502" y="316" width="11" height="10" fill="#d6e6f4"/>
<rect x="513" y="316" width="10" height="10" fill="#d3e4f3"/>
<rect x="523" y="316" width="11" height="10" fill="#d9e8f5"/>
<rect x="534" y="316" width="11" height="10" fill="#eaf3fb"/>
<rect x="545" y="316" width="10" height="10" fill="#eef5fc"/>
<rect x="555" y="316" width="11" height="10" fill="#f4f9fe"/>
<rect x="566" y="316" width="11" height="10" fill="#f4f9fe"/>
<rect x="577" y="316" width="10" height="10" fill="#eef5fc"/>
<rect x="587" y="316" width="11" height="10" fill="#e7f0fa"/>
<rect x="598" y="316" width="11" height="10" fill="#e0ecf8"/>
<rect x="609" y="316" width="11" height="10" fill="#cddff1"/>
<rect x="620" y="316" width="10" height="10" fill="#ddeaf7"/>
<rect x="630" y="316" width="10" height="10" fill="#e3eef9"/>
<rect x="438" y="326" width="11" height="11" fill="#d3e4f3"/>
<rect x="449" y="326" width="10" height="11" fill="#f4f9fe"/>
<rect x="459" y="326" width="11" height="11" fill="#d3e4f3"/>
<rect x="470" y="326" width="11" height="11" fill="#f1f7fd"/>
<rect x="481" y="326" width="10" height="11" fill="#d3e4f3"/>
<rect x="491" y="326" width="11" height="11" fill="#c7dbef"/>
<rect x="502" y="326" width="11" height="11" fill="#ddeaf7"/>
<rect x="513" y="326" width="10" height="11" fill="#e0ecf8"/>
<rect x="523" y="326" width="11" height="11" fill="#e0ecf8"/>
<rect x="534" y="326" width="11" height="11" fill="#c2d9ee"/>
<rect x="545" y="326" width="10" height="11" fill="#d9e8f5"/>
<rect x="555" y="326" width="11" height="11" fill="#f1f7fd"/>
<rect x="566" y="326" width="11" height="11" fill="#f4f9fe"/>
<rect x="577" y="326" width="10" height="11" fill="#f4f9fe"/>
<rect x="587" y="326" width="11" height="11" fill="#e7f0fa"/>
<rect x="598" y="326" width="11" height="11" fill="#d6e6f4"/>
<rect x="609" y="326" width="11" height="11" fill="#c7dbef"/>
<rect x="620" y="326" width="10" height="11" fill="#d9e8f5"/>
<rect x="630" y="326" width="10" height="11" fill="#ddeaf7"/>
<rect x="449" y="337" width="10" height="11" fill="#e0ecf8"/>
<rect x="459" y="337" width="11" height="11" fill="#f4f9fe"/>
<rect x="470" y="337" width="11" height="11" fill="#caddf0"/>
<rect x="481" y="337" width="10" height="11" fill="#f4f9fe"/>
<rect x="491" y="337" width="11" height="11" fill="#f4f9fe"/>
<rect x="502" y="337" width="11" height="11" fill="#f4f9fe"/>
<rect x="513" y="337" width="10" height="11" fill="#f4f9fe"/>
<rect x="523" y="337" width="11" height="11" fill="#f4f9fe"/>
<rect x="534" y="337" width="11" height="11" fill="#f4f9fe"/>
<rect x="545" y="337" width="10" height="11" fill="#f4f9fe"/>
<rect x="555" y="337" width="11" height="11" fill="#cddff1"/>
<rect x="566" y="337" width="11" height="11" fill="#d9e8f5"/>
<rect x="577" y="337" width="10" height="11" fill="#f4f9fe"/>
<rect x="587" y="337" width="11" height="11" fill="#a8cee4"/>
<rect x="598" y="337" width="11" height="11" fill="#f4f9fe"/>
<rect x="609" y="337" width="11" height="11" fill="#8fc2de"/>
<rect x="620" y="337" width="10" height="11" fill="#5ca4d0"/>
<rect x="630" y="337" width="10" height="11" fill="#95c5df"/>
<rect x="459" y="348" width="11" height="10" fill="#d0e2f2"/>
<rect x="470" y="348" width="11" height="10" fill="#f4f9fe"/>
<rect x="481" y="348" width="10" height="10" fill="#d3e4f3"/>
<rect x="491" y="348" width="11" height="10" fill="#c2d9ee"/>
<rect x="502" y="348" width="11" height="10" fill="#e3eef9"/>
<rect x="513" y="348" width="10" height="10" fill="#e7f0fa"/>
<rect x="523" y="348" width="11" height="10" fill="#eaf3fb"/>
<rect x="534" y="348" width="11" height="10" fill="#c2d9ee"/>
<rect x="545" y="348" width="10" height="10" fill="#e0ecf8"/>
<rect x="555" y="348" width="11" height="10" fill="#d6e6f4"/>
<rect x="566" y="348" width="11" height="10" fill="#f4f9fe"/>
<rect x="577" y="348" width="10" height="10" fill="#f4f9fe"/>
<rect x="587" y="348" width="11" height="10" fill="#eef5fc"/>
<rect x="598" y="348" width="11" height="10" fill="#d3e4f3"/>
<rect x="609" y="348" width="11" height="10" fill="#d9e8f5"/>
<rect x="620" y="348" width="10" height="10" fill="#eef5fc"/>
<rect x="630" y="348" width="10" height="10" fill="#f1f7fd"/>
<rect x="470" y="358" width="11" height="11" fill="#9cc9e1"/>
<rect x="481" y="358" width="10" height="11" fill="#f4f9fe"/>
<rect x="491" y="358" width="11" height="11" fill="#f4f9fe"/>
<rect x="502" y="358" width="11" height="11" fill="#f4f9fe"/>
<rect x="513" y="358" width="10" height="11" fill="#f4f9fe"/>
<rect x="523" y="358" width="11" height="11" fill="#f4f9fe"/>
<rect x="534" y="358" width="11" height="11" fill="#f4f9fe"/>
<rect x="545" y="358" width="10" height="11" fill="#f4f9fe"/>
<rect x="555" y="358" width="11" height="11" fill="#d6e6f4"/>
<rect x="566" y="358" width="11" height="11" fill="#d0e2f2"/>
<rect x="577" y="358" width="10" height="11" fill="#f1f7fd"/>
<rect x="587" y="358" width="11" height="11" fill="#66abd4"/>
<rect x="598" y="358" width="11" height="11" fill="#f4f9fe"/>
<rect x="609" y="358" width="11" height="11" fill="#4b98ca"/>
<rect x="620" y="358" width="10" height="11" fill="#1f6eb3"/>
<rect x="630" y="358" width="10" height="11" fill="#4191c6"/>
<rect x="481" y="369" width="10" height="11" fill="#95c5df"/>
<rect x="491" y="369" width="11" height="11" fill="#7ab6d9"/>
<rect x="502" y="369" width="11" height="11" fill="#bdd7ec"/>
<rect x="513" y="369" width="10" height="11" fill="#e0ecf8"/>
<rect x="523" y="369" width="11" height="11" fill="#d9e8f5"/>
<rect x="534" y="369" width="11" height="11" fill="#66abd4"/>
<rect x="545" y="369" width="10" height="11" fill="#cddff1"/>
<rect x="555" y="369" width="11" height="11" fill="#ddeaf7"/>
<rect x="566" y="369" width="11" height="11" fill="#f4f9fe"/>
<rect x="577" y="369" width="10" height="11" fill="#f4f9fe"/>
<rect x="587" y="369" width="11" height="11" fill="#f4f9fe"/>
<rect x="598" y="369" width="11" height="11" fill="#6caed6"/>
<rect x="609" y="369" width="11" height="11" fill="#e7f0fa"/>
<rect x="620" y="369" width="10" height="11" fill="#f4f9fe"/>
<rect x="630" y="369" width="10" height="11" fill="#f4f9fe"/>
<rect x="491" y="380" width="11" height="10" fill="#f4f9fe"/>
<rect x="502" y="380" width="11" height="10" fill="#f4f9fe"/>
<rect x="513" y="380" width="10" height="10" fill="#f1f7fd"/>
<rect x="523" y="380" width="11" height="10" fill="#f4f9fe"/>
<rect x="534" y="380" width="11" height="10" fill="#f4f9fe"/>
<rect x="545" y="380" width="10" height="10" fill="#f4f9fe"/>
<rect x="555" y="380" width="11" height="10" fill="#c2d9ee"/>
<rect x="566" y="380" width="11" height="10" fill="#d3e4f3"/>
<rect x="577" y="380" width="10" height="10" fill="#f1f7fd"/>
<rect x="587" y="380" width="11" height="10" fill="#5ca4d0"/>
<rect x="598" y="380" width="11" height="10" fill="#f4f9fe"/>
<rect x="609" y="380" width="11" height="10" fill="#3080bd"/>
<rect x="620" y="380" width="10" height="10" fill="#084c95"/>
<rect x="630" y="380" width="10" height="10" fill="#2676b8"/>
<rect x="502" y="390" width="11" height="11" fill="#f4f9fe"/>
<rect x="513" y="390" width="10" height="11" fill="#f4f9fe"/>
<rect x="523" y="390" width="11" height="11" fill="#f4f9fe"/>
<rect x="534" y="390" width="11" height="11" fill="#f4f9fe"/>
<rect x="545" y="390" width="10" height="11" fill="#f4f9fe"/>
<rect x="555" y="390" width="11" height="11" fill="#eaf3fb"/>
<rect x="566" y="390" width="11" height="11" fill="#caddf0"/>
<rect x="577" y="390" width="10" height="11" fill="#eaf3fb"/>
<rect x="587" y="390" width="11" height="11" fill="#74b3d8"/>
<rect x="598" y="390" width="11" height="11" fill="#f4f9fe"/>
<rect x="609" y="390" width="11" height="11" fill="#7ab6d9"/>
<rect x="620" y="390" width="10" height="11" fill="#6caed6"/>
<rect x="630" y="390" width="10" height="11" fill="#6caed6"/>
<rect x="513" y="401" width="10" height="11" fill="#f1f7fd"/>
<rect x="523" y="401" width="11" height="11" fill="#f4f9fe"/>
<rect x="534" y="401" width="11" height="11" fill="#f4f9fe"/>
<rect x="545" y="401" width="10" height="11" fill="#f4f9fe"/>
<rect x="555" y="401" width="11" height="11" fill="#a1cbe2"/>
<rect x="566" y="401" width="11" height="11" fill="#e0ecf8"/>
<rect x="577" y="401" width="10" height="11" fill="#f1f7fd"/>
<rect x="587" y="401" width="11" height="11" fill="#87bddc"/>
<rect x="598" y="401" width="11" height="11" fill="#f4f9fe"/>
<rect x="609" y="401" width="11" height="11" fill="#4b98ca"/>
<rect x="620" y="401" width="10" height="11" fill="#1865ac"/>
<rect x="630" y="401" width="10" height="11" fill="#4191c6"/>
<rect x="523" y="412" width="11" height="10" fill="#f4f9fe"/>
<rect x="534" y="412" width="11" height="10" fill="#f4f9fe"/>
<rect x="545" y="412" width="10" height="10" fill="#f4f9fe"/>
<rect x="555" y="412" width="11" height="10" fill="#61a7d2"/>
<rect x="566" y="412" width="11" height="10" fill="#ddeaf7"/>
<rect x="577" y="412" width="10" height="10" fill="#eef5fc"/>
<rect x="587" y="412" width="11" height="10" fill="#c2d9ee"/>
<rect x="598" y="412" width="11" height="10" fill="#f1f7fd"/>
<rect x="609" y="412" width="11" height="10" fill="#a8cee4"/>
<rect x="620" y="412" width="10" height="10" fill="#4191c6"/>
<rect x="630" y="412" width="10" height="10" fill="#a1cbe2"/>
<rect x="534" y="422" width="11" height="11" fill="#f4f9fe"/>
<rect x="545" y="422" width="10" height="11" fill="#f4f9fe"/>
<rect x="555" y="422" width="11" height="11" fill="#a1cbe2"/>
<rect x="566" y="422" width="11" height="11" fill="#e3eef9"/>
<rect x="577" y="422" width="10" height="11" fill="#eef5fc"/>
<rect x="587" y="422" width="11" height="11" fill="#caddf0"/>
<rect x="598" y="422" width="11" height="11" fill="#f4f9fe"/>
<rect x="609" y="422" width="11" height="11" fill="#bdd7ec"/>
<rect x="620" y="422" width="10" height="11" fill="#6caed6"/>
<rect x="630" y="422" width="10" height="11" fill="#bdd7ec"/>
<rect x="545" y="433" width="10" height="11" fill="#f4f9fe"/>
<rect x="555" y="433" width="11" height="11" fill="#eaf3fb"/>
<rect x="566" y="433" width="11" height="11" fill="#c2d9ee"/>
<rect x="577" y="433" width="10" height="11" fill="#eaf3fb"/>
<rect x="587" y="433" width="11" height="11" fill="#57a0ce"/>
<rect x="598" y="433" width="11" height="11" fill="#f4f9fe"/>
<rect x="609" y="433" width="11" height="11" fill="#3484bf"/>
<rect x="620" y="433" width="10" height="11" fill="#1865ac"/>
<rect x="630" y="433" width="10" height="11" fill="#2b7bba"/>
<rect x="555" y="444" width="11" height="11" fill="#eaf3fb"/>
<rect x="566" y="444" width="11" height="11" fill="#ddeaf7"/>
<rect x="577" y="444" width="10" height="11" fill="#f4f9fe"/>
<rect x="587" y="444" width="11" height="11" fill="#b7d4ea"/>
<rect x="598" y="444" width="11" height="11" fill="#f4f9fe"/>
<rect x="609" y="444" width="11" height="11" fill="#b2d2e8"/>
<rect x="620" y="444" width="10" height="11" fill="#a8cee4"/>
<rect x="630" y="444" width="10" height="11" fill="#b7d4ea"/>
<rect x="566" y="455" width="11" height="10" fill="#eef5fc"/>
<rect x="577" y="455" width="10" height="10" fill="#caddf0"/>
<rect x="587" y="455" width="11" height="10" fill="#e0ecf8"/>
<rect x="598" y="455" width="11" height="10" fill="#bfd8ed"/>
<rect x="609" y="455" width="11" height="10" fill="#d0e2f2"/>
<rect x="620" y="455" width="10" height="10" fill="#d9e8f5"/>
<rect x="630" y="455" width="10" height="10" fill="#e0ecf8"/>
<rect x="577" y="465" width="10" height="11" fill="#f4f9fe"/>
<rect x="587" y="465" width="11" height="11" fill="#e3eef9"/>
<rect x="598" y="465" width="11" height="11" fill="#cddff1"/>
<rect x="609" y="465" width="11" height="11" fill="#a8cee4"/>
<rect x="620" y="465" width="10" height="11" fill="#c2d9ee"/>
<rect x="630" y="465" width="10" height="11" fill="#d6e6f4"/>
<rect x="587" y="476" width="11" height="11" fill="#ddeaf7"/>
<rect x="598" y="476" width="11" height="11" fill="#eaf3fb"/>
<rect x="609" y="476" width="11" height="11" fill="#d6e6f4"/>
<rect x="620" y="476" width="10" height="11" fill="#d9e8f5"/>
<rect x="630" y="476" width="10" height="11" fill="#ddeaf7"/>
<rect x="598" y="487" width="11" height="10" fill="#4191c6"/>
<rect x="609" y="487" width="11" height="10" fill="#eef5fc"/>
<rect x="620" y="487" width="10" height="10" fill="#f1f7fd"/>
<rect x="630" y="487" width="10" height="10" fill="#f1f7fd"/>
<rect x="609" y="497" width="11" height="11" fill="#1561a9"/>
<rect x="620" y="497" width="10" height="11" fill="#08316d"/>
<rect x="630" y="497" width="10" height="11" fill="#1561a9"/>
<rect x="620" y="508" width="10" height="11" fill="#f4f9fe"/>
<rect x="630" y="508" width="10" height="11" fill="#f4f9fe"/>
<rect x="630" y="519" width="10" height="10" fill="#f4f9fe"/>
<rect x="160" y="60" width="481" height="1" fill="#000"/>
<rect x="160" y="540" width="481" height="1" fill="#000"/>
<rect x="160" y="60" width="1" height="481" fill="#000"/>
<rect x="640" y="60" width="1" height="481" fill="#000"/>
<rect x="165" y="61" width="1" height="5" fill="#000" fill-opacity="0.80"/>
<rect x="165" y="66" width="1" height="1" fill="#000" fill-opacity="0.45"/>
<rect x="165" y="535" width="1" height="5" fill="#000" fill-opacity="0.80"/>
<rect x="165" y="534" width="1" height="1" fill="#000" fill-opacity="0.45"/>
<rect x="161" y="65" width="5" height="1" fill="#000" fill-opacity="0.80"/>
<rect x="166" y="65" width="1" height="1" fill="#000" fill-opacity="0.45"/>
<rect x="635" y="65" width="5" height="1" fill="#000" fill-opacity="0.80"/>
<rect x="634" y="65" width="1" height="1" fill="#000" fill-opacity="0.45"/>
<rect x="176" y="61" width="1" height="5" fill="#000" fill-opacity="0.80"/>
<rect x="176" y="66" width="1" height="1" fill="#000" fill-opacity="0.45"/>
<rect x="176" y="535" width="1" height="5" fill="#000" fill-opacity="0.80"/>
<rect x="176" y="534" width="1" height="1" fill="#000" fill-opacity="0.45"/>
<rect x="161" y="76" width="5" height="1" fill="#000" fill-opacity="0.80"/>
<rect x="166" y="76" width="1" height="1" fill="#000" fill-opacity="0.45"/>
<rect x="635" y="76" width="5" height="1" fill="#000" fill-opacity="0.80"/>
<rect x="634" y="76" width="1" height="1" fill="#000" fill-opacity="0.45"/>
<rect x="187" y="61" width="1" height="5" fill="#000" fill-opacity="0.80"/>
<rect x="187" y="66" width="1" height="1" fill="#000" fill-opacity="0.45"/>
<rect x="187" y="535" width="1" height="5" fill="#000" fill-opacity="0.80"/>
<rect x="187" y="534" width="1" height="1" fill="#000" fill-opacity="0.45"/>
<rect x="161" y="87" width="5" height="1" fill="#000" fill-opacity="0.80"/>
<rect x="166" y="87" width="1" height="1" fill="#000" fill-opacity="0.45"/>
<rect x="635" y="87" width="5" height="1" fill="#000" fill-opacity="0.80"/>
<rect x="634" y="87" width="1" height="1" fill="#000" fill-opacity="0.45"/>
<rect x="197" y="61" width="1" height="5" fill="#000" fill-opacity="0.80"/>
<rect x="197" y="66" width="1" height="1" fill="#000" fill-opacity="0.45"/>
<rect x="197" y="535" width="1" height="5" fill="#000" fill-opacity="0.80"/>
<rect x="197" y="534" width="1" height="1" fill="#000" fill-opacity="0.45"/>
<rect x="161" y="97" width="5" height="1" fill="#000" fill-opacity="0.80"/>
<rect x="166" y="97" width="1" height="1" fill="#000" fill-opacity="0.45"/>
<rect x="635" y="97" width="5" height="1" fill="#000" fill-opacity="0.80"/>
<rect x="634" y="97" width="1" height="1" fill="#000" fill-opacity="0.45"/>
<rect x="208" y="61" width="1" height="5" fill="#000" fill-opacity="0.80"/>
<rect x="208" y="66" width="1" height="1" fill="#000" fill-opacity="0.45"/>
<rect x="208" y="535" width="1" height="5" fill="#000" fill-opacity="0.80"/>
<rect x="208" y="534" width="1" height="1" fill="#000" fill-opacity="0.45"/>
<rect x="161" y="108" width="5" height="1" fill="#000" fill-opacity="0.80"/>
<rect x="166" y="108" width="1" height="1" fill="#000" fill-opacity="0.45"/>
<rect x="635" y="108" width="5" height="1" fill="#000" fill-opacity="0.80"/>
<rect x="634" y="108" width="1" height="1" fill="#000" fill-opacity="0.45"/>
<rect x="219" y="61" width="1" height="5" fill="#000" fill-opacity="0.80"/>
<rect x="219" y="66" width="1" height="1" fill="#000" fill-opacity="0.45"/>
<rect x="219" y="535" width="1" height="5" fill="#000" fill-opacity="0.80"/>
<rect x="219" y="534" width="1" height="1" fill="#000" fill-opacity="0.45"/>
<rect x="161" y="119" width="5" height="1" fill="#000" fill-opacity="0.80"/>
<rect x="166" y="119" width="1" height="1" fill="#000" fill-opacity="0.45"/>
<rect x="635" y="119" width="5" height="1" fill="#000" fill-opacity="0.80"/>
<rect x="634" y="119" width="1" height="1" fill="#000" fill-opacity="0.45"/>
<rect x="229" y="61" width="1" height="5" fill="#000" fill-opacity="0.80"/>
<rect x="229" y="66" width="1" height="1" fill="#000" fill-opacity="0.45"/>
<rect x="229" y="535" width="1" height="5" fill="#000" fill-opacity="0.80"/>
<rect x="229" y="534" width="1" height="1" fill="#000" fill-opacity="0.45"/>
<rect x="161" y="129" width="5" height="1" fill="#000" fill-opacity="0.80"/>
<rect x="166" y="129" width="1" height="1" fill="#000" fill-opacity="0.45"/>
<rect x="635" y="129" width="5" height="1" fill="#000" fill-opacity="0.80"/>
<rect x="634" y="129" width="1" height="1" fill="#000" fill-opacity="0.45"/>
<rect x="240" y="61" width="1" height="5" fill="#000" fill-opacity="0.80"/>
<rect x="240" y="66" width="1" height="1" fill="#000" fill-opacity="0.45"/>
<rect x="240" y="535" width="1" height="5" fill="#000" fill-opacity="0.80"/>
<rect x="240" y="534" width="1" height="1" fill="#000" fill-opacity="0.45"/>
<rect x="161" y="140" width="5" height="1" fill="#000" fill-opacity="0.80"/>
<rect x="166" y="140" width="1" height="1" fill="#000" fill-opacity="0.45"/>
<rect x="635" y="140" width="5" height="1" fill="#000" fill-opacity="0.80"/>
<rect x="634" y="140" width="1" height="1" fill="#000" fill-opacity="0.45"/>
<rect x="251" y="61" width="1" height="5" fill="#000" fill-opacity="0.80"/>
<rect x="251" y="66" width="1" height="1" fill="#000" fill-opacity="0.45"/>
<rect x="251" y="535" width="1" height="5" fill="#000" fill-opacity="0.80"/>
<rect x="251" y="534" width="1" height="1" fill="#000" fill-opacity="0.45"/>
<rect x="161" y="151" width="5" height="1" fill="#000" fill-opacity="0.80"/>
<rect x="166" y="151" width="1" height="1" fill="#000" fill-opacity="0.45"/>
<rect x="635" y="151" width="5" height="1" fill="#000" fill-opacity="0.80"/>
<rect x="634" y="151" width="1" height="1" fill="#000" fill-opacity="0.45"/>
<rect x="261" y="61" width="1" height="5" fill="#000" fill-opacity="0.80"/>
<rect x="261" y="66" width="1" height="1" fill="#000" fill-opacity="0.45"/>
<rect x="261" y="535" width="1" height="5" fill="#000" fill-opacity="0.80"/>
<rect x="261" y="534" width="1" height="1" fill="#000" fill-opacity="0.45"/>
<rect x="161" y="161" width="5" height="1" fill="#000" fill-opacity="0.80"/>
<rect x="166" y="161" width="1" height="1" fill="#000" fill-opacity="0.45"/>
<rect x="635" y="161" width="5" height="1" fill="#000" fill-opacity="0.80"/>
<rect x="634" y="161" width="1" height="1" fill="#000" fill-opacity="0.45"/>
<rect x="272" y="61" width="1" height="5" fill="#000" fill-opacity="0.80"/>
<rect x="272" y="66" width="1" height="1" fill="#000" fill-opacity="0.45"/>
<rect x="272" y="535" width="1" height="5" fill="#000" fill-opacity="0.80"/>
<rect x="272" y="534" width="1" height="1" fill="#000" fill-opacity="0.45"/>
<rect x="161" y="172" width="5" height="1" fill="#000" fill-opacity="0.80"/>
<rect x="166" y="172" width="1" height="1" fill="#000" fill-opacity="0.45"/>
<rect x="635" y="172" width="5" height="1" fill="#000" fill-opacity="0.80"/>
<rect x="634" y="172" width="1" height="1" fill="#000" fill-opacity="0.45"/>
<rect x="283" y="61" width="1" height="5" fill="#000" fill-opacity="0.80"/>
<rect x="283" y="66" width="1" height="1" fill="#000" fill-opacity="0.45"/>
<rect x="283" y="535" width="1" height="5" fill="#000" fill-opacity="0.80"/>
<rect x="283" y="534" width="1" height="1" fill="#000" fill-opacity="0.45"/>
<rect x="161" y="183" width="5" height="1" fill="#000" fill-opacity="0.80"/>
<rect x="166" y="183" width="1" height="1" fill="#000" fill-opacity="0.45"/>
<rect x="635" y="183" width="5" height="1" fill="#000" fill-opacity="0.80"/>
<rect x="634" y="183" width="1" height="1" fill="#000" fill-opacity="0.45"/>
<rect x="293" y="61" width="1" height="5" fill="#000" fill-opacity="0.80"/>
<rect x="293" y="66" width="1" height="1" fill="#000" fill-opacity="0.45"/>
<rect x="293" y="535" width="1" height="5" fill="#000" fill-opacity="0.80"/>
<rect x="293" y="534" width="1" height="1" fill="#000" fill-opacity="0.45"/>
<rect x="161" y="193" width="5" height="1" fill="#000" fill-opacity="0.80"/>
<rect x="166" y="193" width="1" height="1" fill="#000" fill-opacity="0.45"/>
<rect x="635" y="193" width="5" height="1" fill="#000" fill-opacity="0.80"/>
<rect x="634" y="193" width="1" height="1" fill="#000" fill-opacity="0.45"/>
<rect x="304" y="61" width="1" height="5" fill="#000" fill-opacity="0.80"/>
<rect x="304" y="66" width="1" height="1" fill="#000" fill-opacity="0.45"/>
<rect x="304" y="535" width="1" height="5" fill="#000" fill-opacity="0.80"/>
<rect x="304" y="534" width="1" height="1" fill="#000" fill-opacity="0.45"/>
<rect x="161" y="204" width="5" height="1" fill="#000" fill-opacity="0.80"/>
<rect x="166" y="204" width="1" height="1" fill="#000" fill-opacity="0.45"/>
<rect x="635" y="204" width="5" height="1" fill="#000" fill-opacity="0.80"/>
<rect x="634" y="204" width="1" height="1" fill="#000" fill-opacity="0.45"/>
<rect x="315" y="61" width="1" height="5" fill="#000" fill-opacity="0.80"/>
<rect x="315" y="66" width="1" height="1" fill="#000" fill-opacity="0.45"/>
<rect x="315" y="535" width="1" height="5" fill="#000" fill-opacity="0.80"/>
<rect x="315" y="534" width="1" height="1" fill="#000" fill-opacity="0.45"/>
<rect x="161" y="215" width="5" height="1" fill="#000" fill-opacity="0.80"/>
<rect x="166" y="215" width="1" height="1" fill="#000" fill-opacity="0.45"/>
<rect x="635" y="215" width="5" height="1" fill="#000" fill-opacity="0.80"/>
<rect x="634" y="215" width="1" height="1" fill="#000" fill-opacity="0.45"/>
<rect x="325" y="61" width="1" height="5" fill="#000" fill-opacity="0.80"/>
<rect x="325" y="66" width="1" height="1" fill="#000" fill-opacity="0.45"/>
<rect x="325" y="535" width="1" height="5" fill="#000" fill-opacity="0.80"/>
<rect x="325" y="534" width="1" height="1" fill="#000" fill-opacity="0.45"/>
<rect x="161" y="225" width="5" height="1" fill="#000" fill-opacity="0.80"/>
<rect x="166" y="225" width="1" height="1" fill="#000" fill-opacity="0.45"/>
<rect x="635" y="225" width="5" height="1" fill="#000" fill-opacity="0.80"/>
<rect x="634" y="225" width="1" height="1" fill="#000" fill-opacity="0.45"/>
<rect x="336" y="61" width="1" height="5" fill="#000" fill-opacity="0.80"/>
<rect x="336" y="66" width="1" height="1" fill="#000" fill-opacity="0.45"/>
<rect x="336" y="535" width="1" height="5" fill="#000" fill-opacity="0.80"/>
<rect x="336" y="534" width="1" height="1" fill="#000" fill-opacity="0.45"/>
<rect x="161" y="236" width="5" height="1" fill="#000" fill-opacity="0.80"/>
<rect x="166" y="236" width="1" height="1" fill="#000" fill-opacity="0.45"/>
<rect x="635" y="236" width="5" height="1" fill="#000" fill-opacity="0.80"/>
<rect x="634" y="236" width="1" height="1" fill="#000" fill-opacity="0.45"/>
<rect x="347" y="61" width="1" height="5" fill="#000" fill-opacity="0.80"/>
<rect x="347" y="66" width="1" height="1" fill="#000" fill-opacity="0.45"/>
<rect x="347" y="535" width="1" height="5" fill="#000" fill-opacity="0.80"/>
<rect x="347" y="534" width="1" height="1" fill="#000" fill-opacity="0.45"/>
<rect x="161" y="247" width="5" height="1" fill="#000" fill-opacity="0.80"/>
<rect x="166" y="247" width="1" height="1" fill="#000" fill-opacity="0.45"/>
<rect x="635" y="247" width="5" height="1" fill="#000" fill-opacity="0.80"/>
<rect x="634" y="247" width="1" height="1" fill="#000" fill-opacity="0.45"/>
<rect x="357" y="61" width="1" height="5" fill="#000" fill-opacity="0.80"/>
<rect x="357" y="66" width="1" height="1" fill="#000" fill-opacity="0.45"/>
<rect x="357" y="535" width="1" height="5" fill="#000" fill-opacity="0.80"/>
<rect x="357" y="534" width="1" height="1" fill="#000" fill-opacity="0.45"/>
<rect x="161" y="257" width="5" height="1" fill="#000" fill-opacity="0.80"/>
<rect x="166" y="257" width="1" height="1" fill="#000" fill-opacity="0.45"/>
<rect x="635" y="257" width="5" height="1" fill="#000" fill-opacity="0.80"/>
<rect x="634" y="257" width="1" height="1" fill="#000" fill-opacity="0.45"/>
<rect x="368" y="61" width="1" height="5" fill="#000" fill-opacity="0.80"/>
<rect x="368" y="66" width="1" height="1" fill="#000" fill-opacity="0.45"/>
<rect x="368" y="535" width="1" height="5" fill="#000" fill-opacity="0.80"/>
<rect x="368" y="534" width="1" height="1" fill="#000" fill-opacity="0.45"/>
<rect x="161" y="268" width="5" height="1" fill="#000" fill-opacity="0.80"/>
<rect x="166" y="268" width="1" height="1" fill="#000" fill-opacity="0.45"/>
<rect x="635" y="268" width="5" height="1" fill="#000" fill-opacity="0.80"/>
<rect x="634" y="268" width="1" height="1" fill="#000" fill-opacity="0.45"/>
<rect x="379" y="61" width="1" height="5" fill="#000" fill-opacity="0.80"/>
<rect x="379" y="66" width="1" height="1" fill="#000" fill-opacity="0.45"/>
<rect x="379" y="535" width="1" height="5" fill="#000" fill-opacity="0.80"/>
<rect x="379" y="534" width="1" height="1" fill="#000" fill-opacity="0.45"/>
<rect x="161" y="279" width="5" height="1" fill="#000" fill-opacity="0.80"/>
<rect x="166" y="279" width="1" height="1" fill="#000" fill-opacity="0.45"/>
<rect x="635" y="279" width="5" height="1" fill="#000" fill-opacity="0.80"/>
<rect x="634" y="279" width="1" height="1" fill="#000" fill-opacity="0.45"/>
<rect x="389" y="61" width="1" height="5" fill="#000" fill-opacity="0.80"/>
<rect x="389" y="66" width="1" height="1" fill="#000" fill-opacity="0.45"/>
<rect x="389" y="535" width="1" height="5" fill="#000" fill-opacity="0.80"/>
<rect x="389" y="534" width="1" height="1" fill="#000" fill-opacity="0.45"/>
<rect x="161" y="289" width="5" height="1" fill="#000" fill-opacity="0.80"/>
<rect x="166" y="289" width="1" height="1" fill="#000" fill-opacity="0.45"/>
<rect x="635" y="289" width="5" height="1" fill="#000" fill-opacity="0.80"/>
<rect x="634" y="289" width="1" height="1" fill="#000" fill-opacity="0.45"/>
<rect x="400" y="61" width="1" height="5" fill="#000" fill-opacity="0.80"/>
<rect x="400" y="66" width="1" height="1" fill="#000" fill-opacity="0.45"/>
<rect x="400" y="535" width="1" height="5" fill="#000" fill-opacity="0.80"/>
<rect x="400" y="534" width="1" height="1" fill="#000" fill-opacity="0.45"/>
<rect x="161" y="300" width="5" height="1" fill="#000" fill-opacity="0.80"/>
<rect x="166" y="300" width="1" height="1" fill="#000" fill-opacity="0.45"/>
<rect x="635" y="300" width="5" height="1" fill="#000" fill-opacity="0.80"/>
<rect x="634" y="300" width="1" height="1" fill="#000" fill-opacity="0.45"/>
<rect x="411" y="61" width="1" height="5" fill="#000" fill-opacity="0.80"/>
<rect x="411" y="66" width="1" height="1" fill="#000" fill-opacity="0.45"/>
<rect x="411" y="535" width="1" height="5" fill="#000" fill-opacity="0.80"/>
<rect x="411" y="534" width="1" height="1" fill="#000" fill-opacity="0.45"/>
<rect x="161" y="311" width="5" height="1" fill="#000" fill-opacity="0.80"/>
<rect x="166" y="311" width="1" height="1" fill="#000" fill-opacity="0.45"/>
<rect x="635" y="311" width="5" height="1" fill="#000" fill-opacity="0.80"/>
<rect x="634" y="311" width="1" height="1" fill="#000" fill-opacity="0.45"/>
<rect x="421" y="61" width="1" height="5" fill="#000" fill-opacity="0.80"/>
<rect x="421" y="66" width="1" height="1" fill="#000" fill-opacity="0.45"/>
<rect x="421" y="535" width="1" height="5" fill="#000" fill-opacity="0.80"/>
<rect x="421" y="534" width="1" height="1" fill="#000" fill-opacity="0.45"/>
<rect x="161" y="321" width="5" height="1" fill="#000" fill-opacity="0.80"/>
<rect x="166" y="321" width="1" height="1" fill="#000" fill-opacity="0.45"/>
<rect x="635" y="321" width="5" height="1" fill="#000" fill-opacity="0.80"/>
<rect x="634" y="321" width="1" height="1" fill="#000" fill-opacity="0.45"/>
<rect x="432" y="61" width="1" height="5" fill="#000" fill-opacity="0.80"/>
<rect x="432" y="66" width="1" height="1" fill="#000" fill-opacity="0.45"/>
<rect x="432" y="535" width="1" height="5" fill="#000" fill-opacity="0.80"/>
<rect x="432" y="534" width="1" height="1" fill="#000" fill-opacity="0.45"/>
<rect x="161" y="332" width="5" height="1" fill="#000" fill-opacity="0.80"/>
<rect x="166" y="332" width="1" height="1" fill="#000" fill-opacity="0.45"/>
<rect x="635" y="332" width="5" height="1" fill="#000" fill-opacity="0.80"/>
<rect x="634" y="332" width="1" height="1" fill="#000" fill-opacity="0.45"/>
<rect x="443" y="61" width="1" height="5" fill="#000" fill-opacity="0.80"/>
<rect x="443" y="66" width="1" height="1" fill="#000" fill-opacity="0.45"/>
<rect x="443" y="535" width="1" height="5" fill="#000" fill-opacity="0.80"/>
<rect x="443" y="534" width="1" height="1" fill="#000" fill-opacity="0.45"/>
<rect x="161" y="343" width="5" height="1" fill="#000" fill-opacity="0.80"/>
<rect x="166" y="343" width="1" height="1" fill="#000" fill-opacity="0.45"/>
<rect x="635" y="343" width="5" height="1" fill="#000" fill-opacity="0.80"/>
<rect x="634" y="343" width="1" height="1" fill="#000" fill-opacity="0.45"/>
<rect x="453" y="61" width="1" height="5" fill="#000" fill-opacity="0.80"/>
<rect x="453" y="66" width="1" height="1" fill="#000" fill-opacity="0.45"/>
<rect x="453" y="535" width="1" height="5" fill="#000" fill-opacity="0.80"/>
<rect x="453" y="534" width="1" height="1" fill="#000" fill-opacity="0.45"/>
<rect x="161" y="353" width="5" height="1" fill="#000" fill-opacity="0.80"/>
<rect x="166" y="353" width="1" height="1" fill="#000" fill-opacity="0.45"/>
<rect x="635" y="353" width="5" height="1" fill="#000" fill-opacity="0.80"/>
<rect x="634" y="353" width="1" height="1" fill="#000" fill-opacity="0.45"/>
<rect x="464" y="61" width="1" height="5" fill="#000" fill-opacity="0.80"/>
<rect x="464" y="66" width="1" height="1" fill="#000" fill-opacity="0.45"/>
<rect x="464" y="535" width="1" height="5" fill="#000" fill-opacity="0.80"/>
<rect x="464" y="534" width="1" height="1" fill="#000" fill-opacity="0.45"/>
<rect x="161" y="364" width="5" height="1" fill="#000" fill-opacity="0.80"/>
<rect x="166" y="364" width="1" height="1" fill="#000" fill-opacity="0.45"/>
<rect x="635" y="364" width="5" height="1" fill="#000" fill-opacity="0.80"/>
<rect x="634" y="364" width="1" height="1" fill="#000" fill-opacity="0.45"/>
<rect x="475" y="61" width="1" height="5" fill="#000" fill-opacity="0.80"/>
<rect x="475" y="66" width="1" height="1" fill="#000" fill-opacity="0.45"/>
<rect x="475" y="535" width="1" height="5" fill="#000" fill-opacity="0.80"/>
<rect x="475" y="534" width="1" height="1" fill="#000" fill-opacity="0.45"/>
<rect x="161" y="375" width="5" height="1" fill="#000" fill-opacity="0.80"/>
<rect x="166" y="375" width="1" height="1" fill="#000" fill-opacity="0.45"/>
<rect x="635" y="375" width="5" height="1" fill="#000" fill-opacity="0.80"/>
<rect x="634" y="375" width="1" height="1" fill="#000" fill-opacity="0.45"/>
<rect x="485" y="61" width="1" height="5" fill="#000" fill-opacity="0.80"/>
<rect x="485" y="66" width="1" height="1" fill="#000" fill-opacity="0.45"/>
<rect x="485" y="535" width="1" height="5" fill="#000" fill-opacity="0.80"/>
<rect x="485" y="534" width="1" height="1" fill="#000" fill-opacity="0.45"/>
<rect x="161" y="385" width="5" height="1" fill="#000" fill-opacity="0.80"/>
<rect x="166" y="385" width="1" height="1" fill="#000" fill-opacity="0.45"/>
<rect x="635" y="385" width="5" height="1" fill="#000" fill-opacity="0.80"/>
<rect x="634" y="385" width="1" height="1" fill="#000" fill-opacity="0.45"/>
<rect x="496" y="61" width="1" height="5" fill="#000" fill-opacity="0.80"/>
<rect x="496" y="66" width="1" height="1" fill="#000" fill-opacity="0.45"/>
<rect x="496" y="535" width="1" height="5" fill="#000" fill-opacity="0.80"/>
<rect x="496" y="534" width="1" height="1" fill="#000" fill-opacity="0.45"/>
<rect x="161" y="396" width="5" height="1" fill="#000" fill-opacity="0.80"/>
<rect x="166" y="396" width="1" height="1" fill="#000" fill-opacity="0.45"/>
<rect x="635" y="396" width="5" height="1" fill="#000" fill-opacity="0.80"/>
<rect x="634" y="396" width="1" height="1" fill="#000" fill-opacity="0.45"/>
<rect x="507" y="61" width="1" height="5" fill="#000" fill-opacity="0.80"/>
<rect x="507" y="66" width="1" height="1" fill="#000" fill-opacity="0.45"/>
<rect x="507" y="535" width="1" height="5" fill="#000" fill-opacity="0.80"/>
<rect x="507" y="534" width="1" height="1" fill="#000" fill-opacity="0.45"/>
<rect x="161" y="407" width="5" height="1" fill="#000" fill-opacity="0.80"/>
<rect x="166" y="407" width="1" height="1" fill="#000" fill-opacity="0.45"/>
<rect x="635" y="407" width="5" height="1" fill="#000" fill-opacity="0.80"/>
<rect x="634" y="407" width="1" height="1" fill="#000" fill-opacity="0.45"/>
<rect x="517" y="61" width="1" height="5" fill="#000" fill-opacity="0.80"/>
<rect x="517" y="66" width="1" height="1" fill="#000" fill-opacity="0.45"/>
<rect x="517" y="535" width="1" height="5" fill="#000" fill-opacity="0.80"/>
<rect x="517" y="534" width="1" height="1" fill="#000" fill-opacity="0.45"/>
<rect x="161" y="417" width="5" height="1" fill="#000" fill-opacity="0.80"/>
<rect x="166" y="417" width="1" height="1" fill="#000" fill-opacity="0.45"/>
<rect x="635" y="417" width="5" height="1" fill="#000" fill-opacity="0.80"/>
<rect x="634" y="417" width="1" height="1" fill="#000" fill-opacity="0.45"/>
<rect x="528" y="61" width="1" height="5" fill="#000" fill-opacity="0.80"/>
<rect x="528" y="66" width="1" height="1" fill="#000" fill-opacity="0.45"/>
<rect x="528" y="535" width="1" height="5" fill="#000" fill-opacity="0.80"/>
<rect x="528" y="534" width="1" height="1" fill="#000" fill-opacity="0.45"/>
<rect x="161" y="428" width="5" height="1" fill="#000" fill-opacity="0.80"/>
<rect x="166" y="428" width="1" height="1" fill="#000" fill-opacity="0.45"/>
<rect x="635" y="428" width="5" height="1" fill="#000" fill-opacity="0.80"/>
<rect x="634" y="428" width="1" height="1" fill="#000" fill-opacity="0.45"/>
<rect x="539" y="61" width="1" height="5" fill="#000" fill-opacity="0.80"/>
<rect x="539" y="66" width="1" height="1" fill="#000" fill-opacity="0.45"/>
<rect x="539" y="535" width="1" height="5" fill="#000" fill-opacity="0.80"/>
<rect x="539" y="534" width="1" height="1" fill="#000" fill-opacity="0.45"/>
<rect x="161" y="439" width="5" height="1" fill="#000" fill-opacity="0.80"/>
<rect x="166" y="439" width="1" height="1" fill="#000" fill-opacity="0.45"/>
<rect x="635" y="439" width="5" height="1" fill="#000" fill-opacity="0.80"/>
<rect x="634" y="439" width="1" height="1" fill="#000" fill-opacity="0.45"/>
<rect x="549" y="61" width="1" height="5" fill="#000" fill-opacity="0.80"/>
<rect x="549" y="66" width="1" height="1" fill="#000" fill-opacity="0.45"/>
<rect x="549" y="535" width="1" height="5" fill="#000" fill-opacity="0.80"/>
<rect x="549" y="534" width="1" height="1" fill="#000" fill-opacity="0.45"/>
<rect x="161" y="449" width="5" height="1" fill="#000" fill-opacity="0.80"/>
<rect x="166" y="449" width="1" height="1" fill="#000" fill-opacity="0.45"/>
<rect x="635" y="449" width="5" height="1" fill="#000" fill-opacity="0.80"/>
<rect x="634" y="449" width="1" height="1" fill="#000" fill-opacity="0.45"/>
<rect x="560" y="61" width="1" height="5" fill="#000" fill-opacity="0.80"/>
<rect x="560" y="66" width="1" height="1" fill="#000" fill-opacity="0.45"/>
<rect x="560" y="535" width="1" height="5" fill="#000" fill-opacity="0.80"/>
<rect x="560" y="534" width="1" height="1" fill="#000" fill-opacity="0.45"/>
<rect x="161" y="460" width="5" height="1" fill="#000" fill-opacity="0.80"/>
<rect x="166" y="460" width="1" height="1" fill="#000" fill-opacity="0.45"/>
<rect x="635" y="460" width="5" height="1" fill="#000" fill-opacity="0.80"/>
<rect x="634" y="460" width="1" height="1" fill="#000" fill-opacity="0.45"/>
<rect x="571" y="61" width="1" height="5" fill="#000" fill-opacity="0.80"/>
<rect x="571" y="66" width="1" height="1" fill="#000" fill-opacity="0.45"/>
<rect x="571" y="535" width="1" height="5" fill="#000" fill-opacity="0.80"/>
<rect x="571" y="534" width="1" height="1" fill="#000" fill-opacity="0.45"/>
<rect x="161" y="471" width="5" height="1" fill="#000" fill-opacity="0.80"/>
<rect x="166" y="471" width="1" height="1" fill="#000" fill-opacity="0.45"/>
<rect x="635" y="471" width="5" height="1" fill="#000" fill-opacity="0.80"/>
<rect x="634" y="471" width="1" height="1" fill="#000" fill-opacity="0.45"/>
<rect x="581" y="61" width="1" height="5" fill="#000" fill-opacity="0.80"/>
<rect x="581" y="66" width="1" height="1" fill="#000" fill-opacity="0.45"/>
<rect x="581" y="535" width="1" height="5" fill="#000" fill-opacity="0.80"/>
<rect x="581" y="534" width="1" height="1" fill="#000" fill-opacity="0.45"/>
<rect x="161" y="481" width="5" height="1" fill="#000" fill-opacity="0.80"/>
<rect x="166" y="481" width="1" height="1" fill="#000" fill-opacity="0.45"/>
<rect x="635" y="481" width="5" height="1" fill="#000" fill-opacity="0.80"/>
<rect x="634" y="481" width="1" height="1" fill="#000" fill-opacity="0.45"/>
<rect x="592" y="61" width="1" height="5" fill="#000" fill-opacity="0.80"/>
<rect x="592" y="66" width="1" height="1" fill="#000" fill-opacity="0.45"/>
<rect x="592" y="535" width="1" height="5" fill="#000" fill-opacity="0.80"/>
<rect x="592" y="534" width="1" height="1" fill="#000" fill-opacity="0.45"/>
<rect x="161" y="492" width="5" height="1" fill="#000" fill-opacity="0.80"/>
<rect x="166" y="492" width="1" height="1" fill="#000" fill-opacity="0.45"/>
<rect x="635" y="492" width="5" height="1" fill="#000" fill-opacity="0.80"/>
<rect x="634" y="492" width="1" height="1" fill="#000" fill-opacity="0.45"/>
<rect x="603" y="61" width="1" height="5" fill="#000" fill-opacity="0.80"/>
<rect x="603" y="66" width="1" height="1" fill="#000" fill-opacity="0.45"/>
<rect x="603" y="535" width="1" height="5" fill="#000" fill-opacity="0.80"/>
<rect x="603" y="534" width="1" height="1" fill="#000" fill-opacity="0.45"/>
<rect x="161" y="503" width="5" height="1" fill="#000" fill-opacity="0.80"/>
<rect x="166" y="503" width="1" height="1" fill="#000" fill-opacity="0.45"/>
<rect x="635" y="503" width="5" height="1" fill="#000" fill-opacity="0.80"/>
<rect x="634" y="503" width="1" height="1" fill="#000" fill-opacity="0.45"/>
<rect x="613" y="61" width="1" height="5" fill="#000" fill-opacity="0.80"/>
<rect x="613" y="66" width="1" height="1" fill="#000" fill-opacity="0.45"/>
<rect x="613" y="535" width="1" height="5" fill="#000" fill-opacity="0.80"/>
<rect x="613" y="534" width="1" height="1" fill="#000" fill-opacity="0.45"/>
<rect x="161" y="513" width="5" height="1" fill="#000" fill-opacity="0.80"/>
<rect x="166" y="513" width="1" height="1" fill="#000" fill-opacity="0.45"/>
<rect x="635" y="513" width="5" height="1" fill="#000" fill-opacity="0.80"/>
<rect x="634" y="513" width="1" height="1" fill="#000" fill-opacity="0.45"/>
<rect x="624" y="61" width="1" height="5" fill="#000" fill-opacity="0.80"/>
<rect x="624" y="66" width="1" height="1" fill="#000" fill-opacity="0.45"/>
<rect x="624" y="535" width="1" height="5" fill="#000" fill-opacity="0.80"/>
<rect x="624" y="534" width="1" height="1" fill="#000" fill-opacity="0.45"/>
<rect x="161" y="524" width="5" height="1" fill="#000" fill-opacity="0.80"/>
<rect x="166" y="524" width="1" height="1" fill="#000" fill-opacity="0.45"/>
<rect x="635" y="524" width="5" height="1" fill="#000" fill-opacity="0.80"/>
<rect x="634" y="524" width="1" height="1" fill="#000" fill-opacity="0.45"/>
<rect x="635" y="61" width="1" height="5" fill="#000" fill-opacity="0.80"/>
<rect x="635" y="66" width="1" height="1" fill="#000" fill-opacity="0.45"/>
<rect x="635" y="535" width="1" height="5" fill="#000" fill-opacity="0.80"/>
<rect x="635" y="534" width="1" height="1" fill="#000" fill-opacity="0.45"/>
<rect x="161" y="535" width="5" height="1" fill="#000" fill-opacity="0.80"/>
<rect x="166" y="535" width="1" height="1" fill="#000" fill-opacity="0.45"/>
<rect x="635" y="535" width="5" height="1" fill="#000" fill-opacity="0.80"/>
<rect x="634" y="535" width="1" height="1" fill="#000" fill-opacity="0.45"/>
<defs><linearGradient id="g" x1="0" y1="1" x2="0" y2="0"><stop offset="0.0000" stop-color="#f7fbff"/><stop offset="0.0156" stop-color="#f4f9fe"/><stop offset="0.0312" stop-color="#f1f7fd"/><stop offset="0.0469" stop-color="#eef5fc"/><stop offset="0.0625" stop-color="#eaf3fb"/><stop offset="0.0781" stop-color="#e7f1fa"/><stop offset="0.0938" stop-color="#e4eff9"/><stop offset="0.1094" stop-color="#e1edf8"/><stop offset="0.1250" stop-color="#deebf7"/><stop offset="0.1406" stop-color="#dbe9f6"/><stop offset="0.1562" stop-color="#d8e7f5"/><stop offset="0.1719" stop-color="#d5e5f4"/><stop offset="0.1875" stop-color="#d2e3f3"/><stop offset="0.2031" stop-color="#cfe1f2"/><stop offset="0.2188" stop-color="#ccdff1"/><stop offset="0.2344" stop-color="#c9ddf0"/><stop offset="0.2500" stop-color="#c6dbef"/><stop offset="0.2656" stop-color="#c1d9ed"/><stop offset="0.2812" stop-color="#bcd7eb"/><stop offset="0.2969" stop-color="#b7d4ea"/><stop offset="0.3125" stop-color="#b2d2e8"/><stop offset="0.3281" stop-color="#add0e6"/><stop offset="0.3438" stop-color="#a8cee4"/><stop offset="0.3594" stop-color="#a3cce3"/><stop offset="0.3750" stop-color="#9dcae1"/><stop offset="0.3906" stop-color="#97c6df"/><stop offset="0.4062" stop-color="#91c3de"/><stop offset="0.4219" stop-color="#8abfdd"/><stop offset="0.4375" stop-color="#84bcdb"/><stop offset="0.4531" stop-color="#7db8da"/><stop offset="0.4688" stop-color="#77b5d9"/><stop offset="0.4844" stop-color="#72b2d8"/><stop offset="0.5000" stop-color="#6aaed6"/><stop offset="0.5156" stop-color="#65aad4"/><stop offset="0.5312" stop-color="#60a7d2"/><stop offset="0.5469" stop-color="#5ba3d0"/><stop offset="0.5625" stop-color="#56a0ce"/><stop offset="0.5781" stop-color="#519ccc"/><stop offset="0.5938" stop-color="#4b98ca"/><stop offset="0.6094" stop-color="#4695c8"/><stop offset="0.6250" stop-color="#4191c6"/><stop offset="0.6406" stop-color="#3d8dc4"/><stop offset="0.6562" stop-color="#3989c1"/><stop offset="0.6719" stop-color="#3585bf"/><stop offset="0.6875" stop-color="#3181bd"/><stop offset="0.7031" stop-color="#2d7dbb"/><stop offset="0.7188" stop-color="#2979b9"/><stop offset="0.7344" stop-color="#2474b7"/><stop offset="0.7500" stop-color="#2070b4"/><stop offset="0.7656" stop-color="#1d6cb1"/><stop offset="0.7812" stop-color="#1a68ae"/><stop offset="0.7969" stop-color="#1764ab"/><stop offset="0.8125" stop-color="#1460a8"/><stop offset="0.8281" stop-color="#115ca5"/><stop offset="0.8438" stop-color="#0e58a2"/><stop offset="0.8594" stop-color="#0b559f"/><stop offset="0.8750" stop-color="#08509b"/><stop offset="0.8906" stop-color="#084c95"/><stop offset="0.9062" stop-color="#08488e"/><stop offset="0.9219" stop-color="#084488"/><stop offset="0.9375" stop-color="#084082"/><stop offset="0.9531" stop-color="#083c7d"/><stop offset="0.9688" stop-color="#083877"/><stop offset="0.9844" stop-color="#083370"/><stop offset="1.0000" stop-color="#08306b"/></linearGradient></defs>
<rect x="680" y="60" width="16" height="480" fill="url(#g)"/>
<rect x="680" y="60" width="17" height="1" fill="#000"/>
<rect x="680" y="540" width="17" height="1" fill="#000"/>
<rect x="680" y="60" width="1" height="481" fill="#000"/>
<rect x="696" y="60" width="1" height="481" fill="#000"/>
<rect x="691" y="476" width="5" height="1" fill="#000" fill-opacity="0.80"/>
<rect x="690" y="476" width="1" height="1" fill="#000" fill-opacity="0.45"/>
<rect x="691" y="412" width="5" height="1" fill="#000" fill-opacity="0.80"/>
<rect x="690" y="412" width="1" height="1" fill="#000" fill-opacity="0.45"/>
<rect x="691" y="349" width="5" height="1" fill="#000" fill-opacity="0.80"/>
<rect x="690" y="349" width="1" height="1" fill="#000" fill-opacity="0.45"/>
<rect x="691" y="285" width="5" height="1" fill="#000" fill-opacity="0.80"/>
<rect x="690" y="285" width="1" height="1" fill="#000" fill-opacity="0.45"/>
<rect x="691" y="222" width="5" height="1" fill="#000" fill-opacity="0.80"/>
<rect x="690" y="222" width="1" height="1" fill="#000" fill-opacity="0.45"/>
<rect x="691" y="158" width="5" height="1" fill="#000" fill-opacity="0.80"/>
<rect x="690" y="158" width="1" height="1" fill="#000" fill-opacity="0.45"/>
<rect x="691" y="95" width="5" height="1" fill="#000" fill-opacity="0.80"/>
<rect x="690" y="95" width="1" height="1" fill="#000" fill-opacity="0.45"/>
</g>
<text x="152.20" y="54.00" font-size="17.40" textLength="25.96" lengthAdjust="spacingAndGlyphs">C1'</text>
<text x="207.20" y="54.00" font-size="17.40" textLength="23.96" lengthAdjust="spacingAndGlyphs">C4'</text>
<text x="261.20" y="54.00" font-size="17.40" textLength="21.06" lengthAdjust="spacingAndGlyphs">N1</text>
<text x="312.20" y="54.00" font-size="17.40" textLength="27.00" lengthAdjust="spacingAndGlyphs">O2'</text>
<text x="363.20" y="54.00" font-size="17.40" textLength="30.97" lengthAdjust="spacingAndGlyphs">OP2</text>
<text x="420.20" y="54.00" font-size="17.40" textLength="23.96" lengthAdjust="spacingAndGlyphs">C3'</text>
<text x="475.20" y="54.00" font-size="17.40" textLength="20.01" lengthAdjust="spacingAndGlyphs">C6</text>
<text x="528.20" y="54.00" font-size="17.40" textLength="21.12" lengthAdjust="spacingAndGlyphs">N7</text>
<text x="579.20" y="54.00" font-size="17.40" textLength="26.00" lengthAdjust="spacingAndGlyphs">O5'</text>
<text x="128.00" y="71.00" font-size="17.40" textLength="27.00" lengthAdjust="spacingAndGlyphs">C1'</text>
<text x="130.00" y="125.00" font-size="17.40" textLength="25.00" lengthAdjust="spacingAndGlyphs">C4'</text>
<text x="134.00" y="178.00" font-size="17.40" textLength="21.00" lengthAdjust="spacingAndGlyphs">N1</text>
<text x="128.00" y="231.00" font-size="17.40" textLength="27.00" lengthAdjust="spacingAndGlyphs">O2'</text>
<text x="123.00" y="285.00" font-size="17.40" textLength="32.00" lengthAdjust="spacingAndGlyphs">OP2</text>
<text x="130.00" y="338.00" font-size="17.40" textLength="25.00" lengthAdjust="spacingAndGlyphs">C3'</text>
<text x="134.00" y="391.00" font-size="17.40" textLength="21.00" lengthAdjust="spacingAndGlyphs">C6</text>
<text x="134.00" y="445.00" font-size="17.40" textLength="21.00" lengthAdjust="spacingAndGlyphs">N7</text>
<text x="128.00" y="498.00" font-size="17.40" textLength="27.00" lengthAdjust="spacingAndGlyphs">O5'</text>
<text x="701.00" y="545.00" font-size="17.40" textLength="35.97" lengthAdjust="spacingAndGlyphs">0.00</text>
<text x="701.00" y="482.00" font-size="17.40" textLength="37.00" lengthAdjust="spacingAndGlyphs">0.08</text>
<text x="701.00" y="418.00" font-size="17.40" textLength="37.00" lengthAdjust="spacingAndGlyphs">0.16</text>
<text x="701.00" y="355.00" font-size="17.40" textLength="35.97" lengthAdjust="spacingAndGlyphs">0.24</text>
<text x="701.00" y="291.00" font-size="17.40" textLength="37.00" lengthAdjust="spacingAndGlyphs">0.32</text>
<text x="701.00" y="228.00" font-size="17.40" textLength="35.97" lengthAdjust="spacingAndGlyphs">0.40</text>
<text x="701.00" y="164.00" font-size="17.40" textLength="37.00" lengthAdjust="spacingAndGlyphs">0.48</text>
<text x="701.00" y="101.00" font-size="17.40" textLength="37.00" lengthAdjust="spacingAndGlyphs">0.56</text>
</svg></body></html>
